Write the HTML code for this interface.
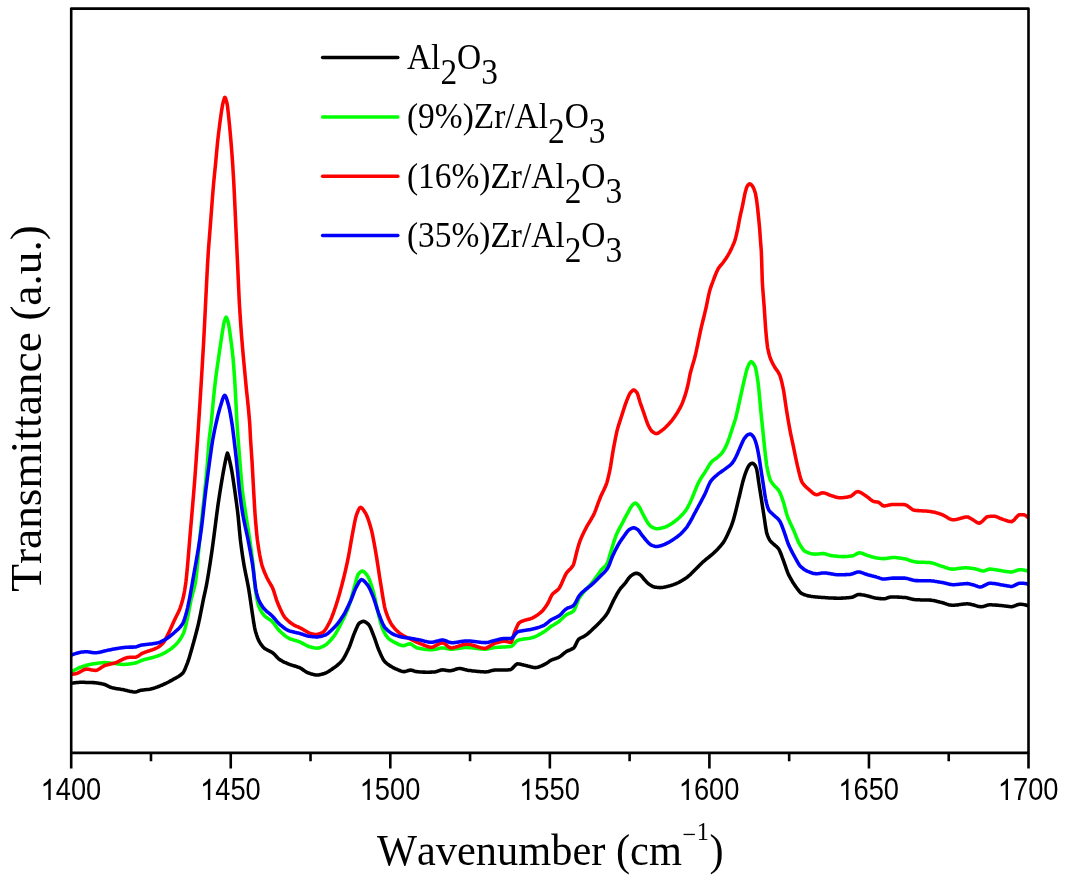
<!DOCTYPE html>
<html><head><meta charset="utf-8"><title>FTIR spectra</title>
<style>
html,body{margin:0;padding:0;background:#fff;}
body{width:1066px;height:881px;overflow:hidden;font-family:"Liberation Sans",sans-serif;}
svg{display:block;}
</style></head><body>
<svg width="1066" height="881" viewBox="0 0 1066 881">
<rect x="0" y="0" width="1066" height="881" fill="#ffffff"/>
<filter id="b" x="0" y="0" width="1066" height="881" filterUnits="userSpaceOnUse"><feGaussianBlur stdDeviation="0.65"/></filter>
<g filter="url(#b)">
<rect x="0" y="0" width="1066" height="881" fill="#ffffff"/>
<clipPath id="c"><rect x="71.2" y="8.6" width="957.3" height="744.3"/></clipPath>
<g clip-path="url(#c)" fill="none" stroke-linejoin="round" stroke-linecap="round" stroke-width="3.55">
<path d="M71.6,683.2 L72.6,683.1 L73.6,682.9 L74.6,682.8 L75.6,682.7 L76.6,682.5 L77.6,682.5 L78.6,682.4 L79.6,682.3 L80.6,682.3 L81.6,682.3 L82.6,682.3 L83.6,682.3 L84.6,682.3 L85.6,682.4 L86.6,682.4 L87.6,682.4 L88.6,682.4 L89.6,682.5 L90.6,682.5 L91.6,682.5 L92.6,682.6 L93.6,682.6 L93.8,682.6 L94.6,682.7 L95.6,682.7 L96.6,682.9 L97.6,683.0 L98.6,683.2 L99.6,683.4 L100.6,683.5 L101.6,683.8 L102.6,684.0 L103.2,684.1 L103.6,684.2 L104.6,684.5 L105.6,684.9 L106.6,685.4 L107.6,685.9 L108.6,686.4 L109.6,686.8 L110.6,687.3 L111.6,687.6 L112.5,687.9 L112.6,687.9 L113.6,688.1 L114.6,688.3 L115.6,688.5 L116.6,688.7 L117.6,688.8 L118.6,689.0 L119.6,689.1 L120.6,689.3 L121.6,689.4 L122.6,689.6 L123.6,689.8 L123.8,689.8 L124.6,690.0 L125.6,690.2 L126.6,690.4 L127.6,690.7 L128.6,690.9 L129.6,691.2 L130.6,691.4 L131.6,691.6 L132.6,691.8 L133.6,691.9 L134.6,692.0 L135.0,692.0 L135.6,691.9 L136.6,691.7 L137.6,691.4 L138.6,691.0 L139.6,690.6 L140.6,690.3 L140.7,690.3 L141.6,690.2 L142.6,690.0 L143.6,689.9 L144.6,689.8 L145.6,689.7 L146.6,689.6 L147.6,689.5 L148.6,689.4 L149.6,689.3 L150.0,689.2 L150.6,689.1 L151.6,688.8 L152.6,688.6 L153.6,688.3 L154.6,687.9 L155.6,687.6 L156.6,687.2 L157.6,686.9 L158.6,686.5 L159.6,686.1 L160.6,685.7 L161.3,685.4 L161.6,685.3 L162.6,684.8 L163.6,684.4 L164.6,683.9 L165.6,683.5 L166.6,683.0 L167.6,682.5 L168.6,682.0 L169.6,681.4 L170.6,680.9 L171.6,680.4 L172.6,679.8 L173.6,679.2 L174.6,678.7 L175.6,678.2 L176.6,677.6 L177.6,677.0 L178.6,676.4 L179.6,675.7 L180.6,675.0 L181.6,674.2 L182.6,673.2 L182.9,672.9 L183.6,671.9 L184.6,670.0 L185.6,667.7 L186.6,665.2 L187.6,662.6 L188.6,659.7 L189.6,656.5 L190.6,653.1 L191.6,649.5 L192.6,645.9 L193.2,643.8 L193.6,642.4 L194.6,638.7 L195.6,635.0 L196.6,631.2 L197.6,627.2 L198.6,623.1 L198.8,622.2 L199.6,618.5 L200.6,613.5 L201.6,608.4 L202.6,603.3 L203.5,598.8 L203.6,598.3 L204.6,593.8 L205.6,589.3 L206.5,584.9 L206.6,584.4 L207.6,578.8 L208.6,572.8 L209.6,566.5 L210.6,560.0 L211.6,553.3 L211.9,551.3 L212.6,546.3 L213.6,538.8 L214.6,531.1 L215.6,523.3 L216.6,515.4 L217.6,507.9 L218.2,503.6 L218.6,500.9 L219.6,494.3 L220.6,488.0 L221.6,481.9 L222.6,476.0 L223.6,470.4 L224.6,465.1 L225.6,460.2 L226.2,457.5 L226.6,455.7 L227.4,453.1 L227.6,453.3 L228.6,456.3 L228.8,457.0 L229.6,460.3 L230.4,464.0 L230.6,464.9 L231.6,469.9 L231.8,471.0 L232.6,475.8 L233.6,482.4 L234.6,489.3 L234.7,490.0 L235.6,496.4 L236.6,503.7 L237.6,511.6 L238.0,515.0 L238.6,521.0 L239.6,532.0 L240.4,540.0 L240.6,541.6 L241.6,549.3 L242.6,556.2 L243.6,562.6 L244.0,565.0 L244.6,568.3 L245.6,573.4 L246.6,578.2 L247.6,583.1 L248.6,588.4 L248.7,589.0 L249.6,594.7 L250.6,601.6 L251.6,608.5 L252.2,612.5 L252.6,615.1 L253.6,621.7 L254.6,627.5 L255.0,629.4 L255.6,631.7 L256.6,635.0 L257.6,637.9 L258.6,640.3 L258.8,640.7 L259.6,642.1 L260.6,643.7 L261.6,645.1 L262.6,646.4 L263.6,647.4 L264.4,648.2 L264.6,648.4 L265.6,649.0 L266.6,649.6 L267.6,650.2 L268.6,650.6 L269.6,651.1 L270.6,651.6 L271.6,652.1 L272.6,652.8 L272.8,652.9 L273.6,653.6 L274.6,654.5 L275.6,655.6 L276.6,656.7 L277.6,657.8 L278.6,658.8 L279.4,659.4 L279.6,659.5 L280.6,660.2 L281.6,660.7 L282.6,661.3 L283.6,661.8 L284.6,662.3 L285.6,662.7 L286.6,663.2 L287.6,663.6 L288.6,664.0 L288.8,664.1 L289.6,664.4 L290.6,664.8 L291.6,665.1 L292.6,665.4 L293.6,665.7 L294.6,666.0 L295.6,666.3 L296.6,666.6 L297.6,667.0 L298.6,667.3 L299.6,667.7 L300.0,667.9 L300.6,668.2 L301.6,668.8 L302.6,669.5 L303.6,670.2 L304.6,670.9 L305.6,671.6 L306.6,672.2 L307.5,672.6 L307.6,672.6 L308.6,673.0 L309.6,673.3 L310.6,673.7 L311.6,674.0 L312.6,674.3 L313.6,674.5 L314.6,674.7 L315.6,674.9 L316.6,675.0 L316.9,675.0 L317.6,675.0 L318.6,674.9 L319.6,674.7 L320.6,674.5 L321.6,674.3 L322.6,674.0 L323.6,673.7 L324.4,673.5 L324.6,673.4 L325.6,673.0 L326.6,672.6 L327.6,672.0 L328.6,671.5 L329.6,670.8 L330.6,670.1 L331.6,669.5 L332.6,668.7 L333.6,668.0 L333.8,667.9 L334.6,667.3 L335.6,666.6 L336.6,665.8 L337.6,665.0 L338.6,664.1 L339.6,663.2 L340.6,662.2 L341.6,661.1 L342.2,660.4 L342.6,659.9 L343.6,658.4 L344.6,656.7 L345.6,654.8 L346.6,652.8 L347.6,650.8 L348.6,648.6 L348.8,648.2 L349.6,646.3 L350.6,643.6 L351.6,640.8 L352.6,637.9 L353.6,635.2 L354.4,633.2 L354.6,632.7 L355.6,630.3 L356.6,627.9 L357.6,625.7 L358.6,624.0 L359.1,623.4 L359.6,623.0 L360.6,622.3 L361.6,621.8 L362.6,621.4 L363.3,621.3 L363.6,621.3 L364.6,621.6 L365.6,622.1 L366.6,622.8 L367.6,623.6 L368.5,624.4 L368.6,624.5 L369.6,626.0 L370.6,628.0 L371.6,630.4 L372.6,633.0 L373.6,635.6 L374.1,636.9 L374.6,638.2 L375.6,641.0 L376.6,644.0 L377.6,646.9 L378.6,649.5 L378.8,650.0 L379.6,651.8 L380.6,654.1 L381.6,656.3 L382.6,658.3 L383.6,660.1 L384.5,661.3 L384.6,661.4 L385.6,662.4 L386.6,663.3 L387.6,664.1 L388.6,664.8 L389.6,665.5 L390.6,666.2 L391.6,666.7 L392.6,667.3 L393.6,667.8 L393.8,667.9 L394.6,668.3 L395.6,668.8 L396.6,669.2 L397.6,669.7 L398.6,670.1 L399.6,670.5 L400.6,670.9 L401.6,671.2 L402.6,671.4 L403.6,671.6 L404.2,671.6 L404.6,671.6 L405.6,671.4 L406.6,671.1 L407.6,670.8 L408.6,670.5 L409.6,670.2 L410.6,670.1 L410.7,670.1 L411.6,670.2 L412.6,670.5 L413.6,670.8 L414.6,671.2 L415.6,671.5 L416.4,671.6 L416.6,671.6 L417.6,671.7 L418.6,671.8 L419.6,671.9 L420.6,671.9 L421.6,672.0 L422.6,672.1 L423.6,672.1 L424.6,672.1 L425.6,672.2 L426.6,672.2 L427.6,672.2 L428.6,672.2 L429.6,672.2 L430.6,672.1 L431.6,672.1 L432.6,672.0 L433.6,672.0 L434.6,671.9 L435.0,671.9 L435.6,671.8 L436.6,671.6 L437.6,671.2 L438.6,670.8 L439.6,670.5 L440.6,670.1 L441.6,669.9 L442.5,669.8 L442.6,669.8 L443.6,669.9 L444.6,670.0 L445.6,670.2 L446.6,670.4 L447.6,670.5 L448.6,670.7 L449.6,670.8 L450.0,670.8 L450.6,670.8 L451.6,670.6 L452.6,670.3 L453.6,670.0 L454.6,669.7 L455.6,669.3 L456.6,669.0 L457.6,668.7 L458.6,668.6 L459.4,668.5 L459.6,668.5 L460.6,668.6 L461.6,668.7 L462.6,668.9 L463.6,669.2 L464.6,669.5 L465.6,669.7 L466.6,670.0 L467.6,670.2 L468.6,670.4 L468.8,670.4 L469.6,670.5 L470.6,670.6 L471.6,670.7 L472.6,670.9 L473.6,671.0 L474.6,671.1 L475.6,671.2 L476.6,671.3 L477.6,671.4 L478.6,671.5 L479.6,671.6 L480.6,671.7 L481.6,671.7 L482.6,671.8 L483.6,671.8 L484.6,671.9 L485.6,671.9 L485.7,671.9 L486.6,671.8 L487.6,671.7 L488.6,671.5 L489.6,671.2 L490.6,670.9 L491.6,670.6 L492.6,670.4 L493.6,670.2 L494.6,670.0 L495.0,670.0 L495.6,670.0 L496.6,670.0 L497.6,669.9 L498.6,669.9 L499.6,669.9 L500.6,669.9 L501.6,669.9 L502.6,669.9 L503.6,669.9 L504.6,669.9 L505.6,669.9 L506.6,669.9 L507.6,669.9 L508.6,669.8 L509.6,669.8 L510.0,669.8 L510.6,669.6 L511.6,669.0 L512.6,668.1 L513.6,667.0 L514.6,665.9 L515.6,664.9 L516.6,664.1 L517.6,663.8 L518.6,663.9 L519.6,664.0 L520.6,664.2 L521.6,664.5 L522.6,664.7 L523.6,665.0 L524.6,665.2 L525.0,665.3 L525.6,665.4 L526.6,665.7 L527.6,666.0 L528.6,666.2 L529.6,666.5 L530.6,666.8 L531.6,667.0 L532.6,667.3 L533.6,667.4 L534.6,667.6 L535.4,667.6 L535.6,667.6 L536.6,667.5 L537.6,667.3 L538.6,667.0 L539.6,666.6 L540.6,666.2 L541.6,665.8 L542.6,665.3 L543.6,664.8 L544.6,664.3 L545.6,663.8 L545.7,663.8 L546.6,663.3 L547.6,662.6 L548.6,661.9 L549.6,661.1 L550.6,660.5 L551.3,660.1 L551.6,660.0 L552.6,659.5 L553.6,659.2 L554.6,658.9 L555.6,658.5 L556.6,658.2 L557.6,657.8 L558.6,657.4 L558.8,657.3 L559.6,656.8 L560.6,656.1 L561.6,655.3 L562.6,654.5 L563.6,653.6 L564.6,652.8 L565.6,652.1 L566.3,651.6 L566.6,651.4 L567.6,650.9 L568.6,650.5 L569.6,650.1 L570.6,649.7 L571.6,649.2 L572.6,648.7 L573.6,648.1 L573.8,647.9 L574.6,646.8 L575.6,644.9 L576.6,642.7 L577.6,640.7 L578.5,639.4 L578.6,639.3 L579.6,638.6 L580.6,638.0 L581.6,637.5 L582.6,637.0 L583.6,636.6 L584.6,636.0 L585.1,635.7 L585.6,635.3 L586.6,634.6 L587.6,633.8 L588.6,633.0 L589.6,632.1 L590.6,631.2 L591.6,630.3 L592.6,629.3 L593.6,628.3 L594.6,627.4 L595.5,626.5 L595.6,626.4 L596.6,625.4 L597.6,624.4 L598.6,623.4 L599.6,622.4 L600.6,621.4 L601.6,620.3 L602.6,619.2 L603.6,618.1 L604.6,616.9 L605.6,615.6 L606.6,614.2 L606.9,613.8 L607.6,612.7 L608.6,610.8 L609.6,608.8 L610.6,606.7 L611.6,604.6 L612.6,602.4 L613.6,600.4 L614.4,598.8 L614.6,598.4 L615.6,596.6 L616.6,594.7 L617.6,593.0 L618.6,591.3 L619.5,589.9 L619.6,589.8 L620.6,588.4 L621.6,587.2 L622.6,586.1 L623.6,585.0 L624.6,583.8 L625.2,583.1 L625.6,582.6 L626.6,581.2 L627.6,579.8 L628.6,578.4 L629.6,577.2 L630.6,576.1 L630.9,575.9 L631.6,575.4 L632.6,574.7 L633.6,574.1 L634.6,573.6 L635.6,573.3 L636.3,573.2 L636.6,573.2 L637.6,573.5 L638.6,573.9 L639.6,574.4 L639.9,574.6 L640.6,575.1 L641.6,576.2 L642.6,577.4 L643.6,578.7 L644.5,579.7 L644.6,579.8 L645.6,580.9 L646.6,582.0 L647.6,583.0 L648.6,583.9 L649.0,584.2 L649.6,584.6 L650.6,585.2 L651.6,585.8 L652.6,586.4 L653.6,586.8 L654.6,587.1 L654.7,587.1 L655.6,587.2 L656.6,587.3 L657.6,587.4 L658.6,587.5 L659.6,587.6 L660.4,587.6 L660.6,587.6 L661.6,587.5 L662.6,587.4 L663.6,587.3 L664.6,587.1 L665.6,586.9 L666.6,586.6 L667.6,586.4 L668.6,586.1 L669.5,585.9 L669.6,585.9 L670.6,585.6 L671.6,585.3 L672.6,584.9 L673.6,584.6 L674.6,584.2 L675.6,583.8 L676.6,583.3 L677.6,582.9 L678.5,582.5 L678.6,582.5 L679.6,581.9 L680.6,581.4 L681.6,580.8 L682.6,580.2 L683.6,579.6 L684.6,579.0 L685.3,578.5 L685.6,578.3 L686.6,577.6 L687.6,576.8 L688.6,576.0 L689.6,575.1 L690.0,574.8 L690.6,574.3 L691.6,573.3 L692.6,572.3 L693.6,571.3 L694.6,570.3 L695.1,569.8 L695.6,569.3 L696.6,568.3 L697.6,567.3 L698.6,566.2 L699.6,565.2 L700.6,564.2 L701.6,563.2 L702.6,562.3 L703.6,561.4 L704.6,560.6 L705.6,559.7 L706.6,558.9 L707.6,558.1 L708.6,557.3 L709.6,556.5 L710.6,555.7 L711.6,554.9 L712.6,554.0 L713.6,553.1 L713.8,552.9 L714.6,552.1 L715.6,551.2 L716.6,550.2 L717.6,549.2 L718.6,548.1 L719.6,547.1 L720.6,545.9 L721.6,544.7 L722.6,543.4 L723.2,542.6 L723.6,542.0 L724.6,540.3 L725.6,538.5 L726.6,536.6 L727.6,534.5 L728.6,532.3 L729.6,530.1 L730.5,528.0 L730.6,527.8 L731.6,525.2 L732.6,522.3 L733.4,519.9 L733.6,519.2 L734.6,515.6 L735.6,511.7 L736.6,507.6 L737.6,503.4 L738.6,499.2 L739.1,497.2 L739.6,495.2 L740.6,490.9 L741.6,486.7 L742.6,482.6 L743.6,479.0 L744.6,475.8 L745.6,472.8 L746.6,470.2 L747.6,467.9 L748.6,466.1 L749.6,464.7 L750.0,464.3 L750.6,463.9 L751.6,463.4 L752.4,463.2 L752.6,463.2 L753.6,463.8 L754.6,464.8 L754.8,465.0 L755.6,466.3 L756.6,468.8 L757.6,474.3 L758.6,481.6 L758.9,483.6 L759.6,488.0 L760.6,494.2 L761.6,500.4 L761.8,501.7 L762.6,506.9 L763.6,513.4 L764.6,519.9 L765.6,526.9 L766.6,532.6 L767.6,535.6 L768.6,538.0 L769.6,539.9 L769.8,540.2 L770.6,541.3 L771.6,542.4 L772.6,543.3 L773.6,544.2 L774.6,545.0 L775.6,545.8 L776.6,546.6 L777.6,547.7 L778.6,548.9 L778.8,549.2 L779.6,550.7 L780.6,553.0 L781.6,555.6 L782.6,558.3 L783.5,560.7 L783.6,561.0 L784.6,563.8 L785.6,566.7 L786.6,569.7 L787.6,572.4 L788.2,573.8 L788.6,574.6 L789.6,576.6 L790.6,578.5 L791.6,580.2 L792.6,581.9 L793.6,583.4 L794.6,585.0 L794.7,585.1 L795.6,586.4 L796.6,587.8 L797.6,589.2 L798.6,590.5 L799.6,591.7 L800.6,592.7 L801.3,593.2 L801.6,593.4 L802.6,593.9 L803.6,594.3 L804.6,594.8 L805.6,595.1 L806.6,595.4 L807.6,595.7 L808.6,596.0 L808.8,596.0 L809.6,596.1 L810.6,596.3 L811.6,596.4 L812.6,596.6 L813.6,596.7 L814.6,596.8 L815.6,596.9 L816.6,597.0 L817.6,597.1 L818.6,597.2 L819.6,597.3 L820.0,597.3 L820.6,597.3 L821.6,597.4 L822.6,597.5 L823.6,597.5 L824.6,597.6 L825.6,597.7 L826.6,597.7 L827.6,597.8 L828.6,597.9 L829.6,597.9 L830.6,598.0 L831.6,598.0 L832.6,598.0 L833.6,598.1 L834.6,598.1 L835.6,598.1 L836.6,598.2 L837.6,598.2 L838.6,598.2 L838.8,598.2 L839.6,598.2 L840.6,598.2 L841.6,598.1 L842.6,598.1 L843.6,598.0 L844.6,598.0 L845.6,597.9 L846.6,597.8 L847.6,597.8 L848.6,597.7 L849.6,597.6 L850.6,597.5 L851.6,597.3 L852.0,597.3 L852.6,597.2 L853.6,596.7 L854.6,596.2 L855.6,595.6 L856.6,595.1 L857.6,594.7 L858.5,594.5 L858.6,594.5 L859.6,594.6 L860.6,594.6 L861.6,594.8 L862.6,594.9 L863.6,595.1 L864.6,595.3 L865.6,595.5 L866.6,595.7 L867.0,595.8 L867.6,595.9 L868.6,596.2 L869.6,596.5 L870.6,596.8 L871.6,597.1 L872.6,597.4 L873.6,597.6 L874.6,597.9 L875.6,598.1 L876.3,598.2 L876.6,598.2 L877.6,598.3 L878.6,598.5 L879.6,598.6 L880.6,598.6 L881.6,598.7 L882.6,598.8 L883.6,598.8 L883.8,598.8 L884.6,598.7 L885.6,598.5 L886.6,598.2 L887.6,597.8 L888.6,597.5 L889.6,597.2 L890.6,597.0 L891.4,596.9 L891.6,596.9 L892.6,596.9 L893.6,596.9 L894.6,597.0 L895.6,597.0 L896.6,597.0 L897.6,597.1 L898.6,597.1 L899.6,597.2 L900.6,597.2 L901.6,597.3 L902.6,597.4 L903.6,597.4 L904.5,597.5 L904.6,597.5 L905.6,597.6 L906.6,597.8 L907.6,598.0 L908.6,598.3 L909.6,598.5 L910.6,598.8 L911.6,599.0 L912.6,599.2 L913.6,599.4 L914.6,599.6 L915.6,599.7 L915.7,599.7 L916.6,599.7 L917.6,599.8 L918.6,599.8 L919.6,599.8 L920.6,599.9 L921.6,599.9 L922.6,599.9 L923.6,599.9 L924.6,599.9 L925.6,600.0 L926.6,600.0 L927.6,600.0 L928.6,600.0 L929.6,600.1 L930.0,600.1 L930.6,600.1 L931.6,600.3 L932.6,600.4 L933.6,600.6 L934.6,600.8 L935.6,601.0 L936.6,601.2 L937.6,601.5 L938.6,601.7 L939.6,602.0 L940.6,602.2 L941.0,602.3 L941.6,602.4 L942.6,602.7 L943.6,603.0 L944.6,603.4 L945.6,603.7 L946.6,604.1 L947.6,604.4 L948.6,604.7 L949.6,604.9 L950.6,605.1 L951.6,605.3 L952.3,605.3 L952.6,605.3 L953.6,605.3 L954.6,605.2 L955.6,605.1 L956.6,605.0 L957.6,604.9 L958.6,604.7 L959.6,604.6 L960.6,604.4 L961.6,604.3 L962.6,604.2 L963.6,604.0 L964.6,603.9 L965.6,603.9 L966.6,603.8 L967.3,603.8 L967.6,603.8 L968.6,603.9 L969.6,604.0 L970.6,604.2 L971.6,604.5 L972.6,604.7 L973.6,605.0 L974.6,605.3 L975.6,605.6 L976.6,605.9 L977.6,606.2 L978.6,606.4 L979.6,606.5 L980.6,606.7 L981.4,606.7 L981.6,606.7 L982.6,606.6 L983.6,606.4 L984.6,606.1 L985.6,605.8 L986.6,605.4 L987.6,605.1 L988.6,604.9 L989.6,604.8 L989.8,604.8 L990.6,604.8 L991.6,604.8 L992.6,604.9 L993.6,604.9 L994.6,605.0 L995.6,605.1 L996.6,605.1 L997.6,605.2 L998.6,605.3 L999.6,605.4 L1000.6,605.5 L1001.6,605.6 L1002.6,605.7 L1003.0,605.7 L1003.6,605.8 L1004.6,605.9 L1005.6,606.0 L1006.6,606.2 L1007.6,606.3 L1008.6,606.5 L1009.6,606.6 L1010.6,606.7 L1011.4,606.7 L1011.6,606.7 L1012.6,606.5 L1013.6,606.2 L1014.6,605.9 L1015.6,605.5 L1016.6,605.0 L1017.6,604.7 L1018.6,604.4 L1019.6,604.2 L1019.8,604.2 L1020.6,604.2 L1021.6,604.3 L1022.6,604.4 L1023.6,604.6 L1024.6,604.7 L1025.6,605.0 L1026.6,605.3 L1027.6,605.7 L1027.7,605.7" stroke="#000000"/>
<path d="M71.6,671.9 L72.6,671.3 L73.6,670.7 L74.6,670.1 L75.6,669.6 L76.6,669.0 L77.6,668.5 L78.6,668.0 L79.6,667.6 L80.6,667.2 L81.6,666.9 L82.6,666.5 L83.6,666.2 L84.6,665.9 L85.6,665.6 L86.6,665.3 L87.6,665.0 L88.6,664.8 L89.6,664.6 L90.6,664.3 L91.6,664.2 L91.9,664.1 L92.6,664.0 L93.6,663.8 L94.6,663.7 L95.6,663.5 L96.6,663.4 L97.6,663.2 L98.6,663.1 L99.6,663.0 L100.6,662.9 L101.6,662.8 L102.6,662.7 L103.6,662.6 L104.6,662.6 L105.0,662.6 L105.6,662.6 L106.6,662.7 L107.6,662.7 L108.6,662.8 L109.6,662.9 L110.6,663.1 L111.6,663.2 L112.6,663.3 L113.6,663.4 L114.4,663.5 L114.6,663.5 L115.6,663.6 L116.6,663.7 L117.6,663.9 L118.6,664.0 L119.6,664.1 L120.6,664.2 L121.6,664.3 L122.6,664.4 L123.6,664.4 L123.8,664.4 L124.6,664.4 L125.6,664.3 L126.6,664.3 L127.6,664.2 L128.6,664.1 L129.6,664.0 L130.6,663.8 L131.6,663.7 L132.6,663.5 L133.6,663.3 L134.6,663.2 L135.0,663.1 L135.6,663.0 L136.6,662.6 L137.6,662.2 L138.6,661.8 L139.6,661.4 L140.6,660.9 L141.6,660.5 L142.6,660.1 L143.6,659.8 L144.6,659.5 L145.6,659.2 L146.6,659.0 L147.6,658.7 L148.6,658.5 L149.6,658.2 L150.6,658.0 L151.6,657.7 L152.6,657.5 L153.6,657.2 L154.6,656.9 L155.6,656.6 L156.6,656.3 L157.6,656.0 L158.6,655.6 L159.6,655.2 L160.6,654.8 L161.6,654.3 L162.6,653.9 L163.6,653.4 L164.6,652.8 L165.6,652.3 L166.6,651.7 L167.6,651.1 L168.6,650.5 L168.8,650.4 L169.6,649.8 L170.6,649.1 L171.6,648.3 L172.6,647.5 L173.6,646.6 L174.6,645.7 L175.6,644.7 L176.6,643.7 L177.6,642.6 L178.2,641.9 L178.6,641.4 L179.6,640.0 L180.6,638.6 L181.6,636.9 L182.6,635.1 L183.6,633.0 L183.8,632.5 L184.6,630.1 L185.6,626.3 L186.6,621.9 L187.6,617.5 L188.6,612.6 L189.6,607.4 L190.6,602.2 L191.3,598.8 L191.6,597.5 L192.6,593.8 L193.6,590.2 L194.6,586.4 L195.5,582.0 L195.6,581.4 L196.6,573.3 L197.6,563.1 L198.6,551.7 L199.6,540.3 L200.5,530.8 L200.6,529.8 L201.6,520.5 L202.6,511.5 L203.6,502.4 L204.6,493.0 L204.8,491.0 L205.6,482.9 L206.6,472.3 L207.5,462.0 L207.6,460.7 L208.6,446.3 L209.1,440.0 L209.6,435.6 L210.6,428.2 L211.0,424.9 L211.6,419.0 L212.6,408.2 L213.6,397.6 L214.6,388.0 L215.5,380.0 L215.6,379.2 L216.6,371.6 L217.6,364.4 L218.6,357.5 L218.7,356.8 L219.6,350.6 L220.6,343.9 L221.6,337.3 L222.1,334.1 L222.6,330.8 L223.6,324.6 L224.0,322.7 L224.6,320.6 L225.6,317.8 L226.1,317.2 L226.6,317.7 L227.6,320.3 L228.3,322.7 L228.6,324.1 L229.6,330.5 L230.1,334.1 L230.6,337.7 L231.6,345.3 L232.6,353.9 L232.9,356.8 L233.6,364.9 L234.6,378.5 L234.7,380.0 L235.6,395.8 L235.7,397.6 L236.6,415.7 L237.1,424.9 L237.6,432.1 L238.2,440.0 L238.6,445.2 L239.6,457.8 L240.0,462.7 L240.6,470.2 L241.6,482.6 L242.3,490.0 L242.6,492.5 L243.6,500.0 L244.6,506.6 L245.6,513.0 L245.9,515.0 L246.6,519.5 L247.6,525.8 L248.6,532.1 L249.6,538.6 L249.8,540.0 L250.6,545.6 L251.6,552.9 L252.6,560.7 L253.1,565.0 L253.6,570.2 L254.6,582.2 L255.4,590.0 L255.6,591.3 L256.6,597.2 L257.6,602.0 L258.6,605.7 L258.8,606.3 L259.6,608.2 L260.6,610.2 L261.6,611.9 L262.6,613.4 L263.6,614.8 L264.4,615.7 L264.6,615.9 L265.6,616.8 L266.6,617.6 L267.6,618.2 L268.6,618.9 L269.6,619.5 L270.6,620.2 L271.6,621.0 L271.9,621.3 L272.6,622.0 L273.6,623.2 L274.6,624.5 L275.6,625.9 L276.6,627.3 L277.6,628.6 L278.6,629.8 L279.4,630.7 L279.6,630.9 L280.6,631.8 L281.6,632.8 L282.6,633.7 L283.6,634.5 L284.6,635.4 L285.6,636.2 L286.6,636.9 L287.6,637.5 L288.6,638.1 L288.8,638.2 L289.6,638.6 L290.6,639.0 L291.6,639.3 L292.6,639.6 L293.6,640.0 L294.6,640.3 L295.6,640.5 L296.6,640.8 L297.6,641.1 L298.6,641.5 L299.6,641.8 L300.0,642.0 L300.6,642.3 L301.6,642.8 L302.6,643.3 L303.6,643.9 L304.6,644.4 L305.6,645.0 L306.6,645.5 L307.6,646.0 L308.6,646.4 L309.4,646.7 L309.6,646.8 L310.6,647.0 L311.6,647.3 L312.6,647.6 L313.6,647.8 L314.6,648.0 L315.6,648.1 L316.6,648.2 L316.9,648.2 L317.6,648.1 L318.6,648.0 L319.6,647.7 L320.6,647.4 L321.6,647.0 L322.6,646.5 L323.6,646.1 L324.4,645.7 L324.6,645.6 L325.6,644.9 L326.6,644.2 L327.6,643.3 L328.6,642.3 L329.6,641.3 L330.6,640.2 L331.6,639.0 L332.6,637.8 L333.6,636.6 L333.8,636.3 L334.6,635.2 L335.6,633.6 L336.6,632.0 L337.6,630.2 L338.6,628.3 L339.6,626.4 L340.6,624.5 L341.6,622.5 L342.2,621.3 L342.6,620.5 L343.6,618.4 L344.6,616.3 L345.6,614.1 L346.6,611.8 L347.6,609.4 L348.6,606.8 L348.8,606.3 L349.6,603.9 L350.6,600.6 L351.6,597.0 L352.6,593.4 L353.6,589.8 L354.4,587.0 L354.6,586.3 L355.6,582.5 L356.6,578.8 L357.6,575.6 L358.2,574.4 L358.6,573.9 L359.6,572.7 L360.6,571.8 L361.6,571.2 L362.3,571.0 L362.6,571.1 L363.6,571.5 L364.6,572.3 L365.6,573.4 L366.6,574.7 L367.6,576.0 L368.6,577.9 L369.6,580.2 L370.6,583.0 L371.6,586.1 L372.6,589.3 L373.2,591.3 L373.6,592.8 L374.6,596.9 L375.6,601.5 L376.6,606.2 L377.6,610.7 L377.9,611.9 L378.6,614.7 L379.6,618.7 L380.6,622.5 L381.6,626.0 L382.6,628.8 L383.6,631.0 L384.6,632.9 L385.6,634.7 L386.6,636.2 L387.6,637.5 L388.2,638.2 L388.6,638.6 L389.6,639.4 L390.6,640.1 L391.6,640.7 L392.6,641.3 L393.6,641.9 L394.6,642.4 L395.6,642.9 L395.7,642.9 L396.6,643.3 L397.6,643.8 L398.6,644.3 L399.6,644.8 L400.6,645.1 L401.6,645.5 L402.6,645.6 L403.2,645.7 L403.6,645.7 L404.6,645.5 L405.6,645.1 L406.6,644.7 L407.6,644.3 L408.6,644.0 L409.6,643.8 L409.8,643.8 L410.6,644.0 L411.6,644.4 L412.6,645.1 L413.6,645.9 L414.6,646.6 L415.6,647.2 L416.4,647.6 L416.6,647.7 L417.6,647.9 L418.6,648.2 L419.6,648.4 L420.6,648.6 L421.6,648.8 L422.6,649.0 L423.6,649.1 L424.0,649.2 L424.6,649.3 L425.6,649.4 L426.6,649.5 L427.6,649.6 L428.6,649.7 L429.6,649.7 L430.6,649.8 L431.3,649.8 L431.6,649.8 L432.6,649.7 L433.6,649.6 L434.6,649.4 L435.6,649.2 L436.6,648.9 L437.6,648.7 L438.6,648.4 L439.6,648.2 L440.6,648.1 L441.6,647.9 L442.5,647.9 L442.6,647.9 L443.6,648.0 L444.6,648.1 L445.6,648.3 L446.6,648.5 L447.6,648.7 L448.6,648.9 L449.6,649.1 L450.6,649.2 L451.0,649.2 L451.6,649.2 L452.6,649.1 L453.6,649.1 L454.6,649.0 L455.6,648.8 L456.6,648.7 L457.6,648.6 L458.6,648.4 L459.6,648.3 L460.6,648.1 L461.6,648.0 L462.6,647.8 L463.6,647.7 L464.6,647.6 L465.6,647.5 L466.6,647.5 L466.9,647.5 L467.6,647.5 L468.6,647.6 L469.6,647.6 L470.6,647.7 L471.6,647.8 L472.6,647.9 L473.6,648.1 L474.6,648.2 L475.6,648.3 L476.6,648.5 L477.6,648.6 L478.6,648.7 L479.6,648.8 L480.6,649.0 L481.6,649.0 L482.6,649.1 L483.6,649.2 L484.6,649.2 L484.7,649.2 L485.6,649.2 L486.6,649.1 L487.6,648.9 L488.6,648.7 L489.6,648.5 L490.6,648.3 L491.6,648.1 L492.6,647.9 L493.6,647.7 L494.6,647.5 L495.0,647.5 L495.6,647.4 L496.6,647.4 L497.6,647.3 L498.6,647.2 L499.6,647.2 L500.6,647.1 L501.6,647.1 L502.6,647.0 L503.6,647.0 L504.6,647.0 L505.6,646.9 L506.6,646.8 L507.6,646.8 L508.6,646.7 L509.6,646.6 L510.6,646.5 L511.0,646.4 L511.6,646.2 L512.6,645.4 L513.6,644.4 L514.6,643.2 L515.6,642.0 L516.6,641.0 L517.6,640.4 L518.6,640.1 L519.6,639.8 L520.6,639.6 L521.6,639.4 L522.6,639.3 L523.6,639.1 L524.6,639.0 L525.6,638.8 L526.6,638.7 L527.6,638.6 L528.6,638.4 L529.6,638.3 L530.6,638.1 L531.6,637.8 L532.6,637.6 L533.6,637.3 L534.6,636.9 L535.6,636.5 L536.6,636.0 L537.6,635.5 L538.6,634.9 L539.6,634.4 L540.6,633.8 L541.6,633.2 L542.6,632.6 L543.6,632.0 L543.8,631.9 L544.6,631.4 L545.6,630.7 L546.6,629.9 L547.6,629.1 L548.6,628.3 L549.6,627.5 L550.6,626.8 L551.3,626.3 L551.6,626.1 L552.6,625.5 L553.6,624.9 L554.6,624.3 L555.6,623.7 L556.6,623.1 L557.6,622.4 L558.6,621.7 L558.8,621.6 L559.6,620.9 L560.6,620.0 L561.6,619.0 L562.6,618.0 L563.6,617.1 L564.6,616.1 L565.6,615.3 L566.0,615.0 L566.6,614.6 L567.6,614.1 L568.6,613.7 L569.6,613.2 L570.6,612.8 L571.6,612.3 L572.6,611.7 L573.5,611.0 L573.6,610.9 L574.6,609.3 L575.6,607.0 L576.6,604.3 L577.6,601.6 L578.6,599.2 L579.2,598.0 L579.6,597.4 L580.6,595.9 L581.6,594.6 L582.6,593.3 L583.6,592.1 L584.6,591.0 L585.6,589.9 L586.6,588.9 L587.6,587.8 L588.6,586.7 L589.6,585.6 L590.6,584.5 L591.6,583.3 L591.9,582.9 L592.6,582.0 L593.6,580.7 L594.6,579.3 L595.6,577.9 L596.6,576.5 L597.6,575.1 L598.6,573.7 L599.4,572.6 L599.6,572.3 L600.6,570.9 L601.4,569.8 L601.6,569.6 L602.6,568.5 L603.6,567.6 L604.6,566.7 L605.6,565.7 L606.6,564.4 L607.0,563.8 L607.6,562.5 L608.6,559.6 L609.6,556.1 L610.6,552.6 L611.0,551.3 L611.6,549.4 L612.6,546.1 L613.6,542.8 L614.6,539.6 L615.6,536.7 L616.1,535.4 L616.6,534.2 L617.6,532.1 L618.6,530.1 L619.6,528.2 L620.6,526.4 L621.6,524.5 L621.8,524.1 L622.6,522.6 L623.6,520.6 L624.6,518.7 L625.6,516.8 L626.6,514.9 L627.5,513.3 L627.6,513.1 L628.6,511.3 L629.6,509.4 L630.6,507.7 L631.6,506.1 L632.6,504.9 L633.6,504.0 L634.6,503.3 L635.4,503.1 L635.6,503.1 L636.6,503.7 L637.6,504.7 L638.6,506.0 L638.8,506.2 L639.6,507.5 L640.6,509.4 L641.6,511.5 L642.2,512.7 L642.6,513.5 L643.6,515.4 L644.6,517.3 L645.6,519.2 L646.6,520.9 L646.8,521.2 L647.6,522.4 L648.6,523.9 L649.6,525.2 L650.6,526.2 L650.7,526.3 L651.6,526.8 L652.6,527.4 L653.6,527.8 L654.6,528.2 L655.6,528.5 L656.6,528.7 L657.0,528.7 L657.6,528.7 L658.6,528.6 L659.6,528.4 L660.6,528.3 L661.6,528.0 L662.6,527.8 L663.6,527.5 L663.8,527.5 L664.6,527.2 L665.6,526.9 L666.6,526.4 L667.6,525.9 L668.6,525.3 L669.6,524.8 L670.6,524.2 L671.6,523.6 L671.7,523.5 L672.6,522.9 L673.6,522.2 L674.6,521.5 L675.6,520.7 L676.6,519.9 L677.6,519.1 L678.6,518.2 L679.6,517.3 L679.7,517.2 L680.6,516.3 L681.6,515.3 L682.6,514.2 L683.6,513.1 L684.6,511.9 L685.6,510.6 L686.5,509.3 L686.6,509.1 L687.6,507.5 L688.6,505.5 L689.6,503.5 L690.0,502.7 L690.6,501.4 L691.6,499.1 L692.3,497.5 L692.6,496.8 L693.6,494.4 L694.6,491.9 L695.6,489.3 L696.6,486.9 L697.6,484.5 L698.6,482.4 L698.8,482.0 L699.6,480.6 L700.6,478.9 L701.6,477.3 L702.6,475.8 L703.6,474.3 L704.6,472.8 L705.0,472.2 L705.6,471.2 L706.6,469.6 L707.6,467.8 L708.6,466.1 L709.6,464.5 L710.6,463.1 L711.6,461.8 L711.8,461.6 L712.6,460.9 L713.6,460.1 L714.6,459.4 L715.6,458.7 L716.6,458.0 L717.5,457.3 L717.6,457.2 L718.6,456.3 L719.6,455.4 L720.6,454.5 L721.6,453.4 L722.0,452.9 L722.6,452.1 L723.6,450.5 L724.6,448.8 L725.6,446.9 L726.0,446.1 L726.6,444.8 L727.6,442.3 L728.6,439.7 L729.4,437.5 L729.6,436.9 L730.6,433.9 L731.6,430.8 L732.6,427.6 L732.8,427.0 L733.6,424.7 L734.6,421.7 L735.3,419.5 L735.6,418.4 L736.6,414.4 L737.6,410.0 L738.6,405.5 L739.6,400.9 L740.5,396.8 L740.6,396.4 L741.6,391.9 L742.6,387.3 L743.6,382.8 L744.5,379.0 L744.6,378.6 L745.6,374.4 L746.6,370.4 L747.5,367.6 L747.6,367.4 L748.6,365.1 L749.6,363.1 L750.6,361.9 L751.1,361.6 L751.6,361.8 L752.6,362.6 L753.6,363.9 L754.6,365.6 L755.2,366.8 L755.6,368.0 L756.6,372.9 L757.6,379.3 L758.0,382.0 L758.6,387.1 L759.6,397.6 L760.6,408.5 L760.7,409.5 L761.6,418.5 L762.6,428.3 L763.6,438.1 L763.8,440.0 L764.6,447.7 L765.5,456.0 L765.6,456.8 L766.6,464.8 L766.8,466.0 L767.6,470.1 L768.6,474.5 L769.6,478.1 L770.3,480.0 L770.6,480.6 L771.6,482.3 L772.6,483.7 L773.6,484.9 L774.6,486.0 L775.6,487.0 L776.6,488.0 L777.6,489.1 L778.6,490.4 L779.6,492.0 L779.7,492.2 L780.6,494.2 L781.6,496.8 L782.6,499.8 L783.5,502.5 L783.6,502.8 L784.6,506.3 L785.6,510.2 L786.6,513.8 L787.2,515.7 L787.6,516.8 L788.6,519.3 L789.6,521.6 L790.6,523.8 L791.6,525.9 L792.6,528.0 L793.6,530.2 L793.8,530.7 L794.6,532.6 L795.6,535.1 L796.6,537.6 L797.6,540.0 L798.6,542.3 L799.4,543.8 L799.6,544.1 L800.6,545.8 L801.6,547.4 L802.6,548.8 L803.6,550.1 L804.6,551.0 L805.0,551.3 L805.6,551.6 L806.6,552.0 L807.6,552.5 L808.6,552.9 L809.6,553.2 L810.6,553.5 L811.6,553.7 L812.6,553.9 L813.6,554.0 L814.4,554.1 L814.6,554.1 L815.6,554.1 L816.6,554.0 L817.6,553.9 L818.6,553.9 L819.6,553.8 L820.6,553.7 L821.6,553.6 L822.6,553.6 L822.9,553.6 L823.6,553.6 L824.6,553.8 L825.6,554.0 L826.6,554.3 L827.6,554.6 L828.6,554.9 L829.6,555.2 L830.6,555.5 L831.3,555.6 L831.6,555.6 L832.6,555.8 L833.6,555.9 L834.6,556.0 L835.6,556.1 L836.6,556.2 L837.6,556.3 L838.6,556.4 L839.6,556.5 L840.6,556.5 L841.6,556.6 L842.6,556.6 L843.6,556.6 L844.6,556.6 L845.6,556.5 L846.6,556.5 L847.6,556.4 L848.6,556.3 L849.6,556.2 L850.6,556.1 L851.6,556.0 L852.0,556.0 L852.6,555.9 L853.6,555.5 L854.6,555.0 L855.6,554.4 L856.6,553.8 L857.6,553.3 L858.6,552.9 L859.5,552.8 L859.6,552.8 L860.6,552.9 L861.6,553.2 L862.6,553.5 L863.6,553.9 L864.6,554.4 L865.6,554.8 L866.6,555.2 L867.0,555.3 L867.6,555.5 L868.6,555.8 L869.6,556.1 L870.6,556.4 L871.6,556.8 L872.6,557.1 L873.6,557.3 L874.6,557.6 L875.6,557.8 L876.3,557.9 L876.6,557.9 L877.6,558.1 L878.6,558.2 L879.6,558.3 L880.6,558.4 L881.6,558.5 L882.6,558.6 L883.6,558.6 L883.8,558.6 L884.6,558.6 L885.6,558.5 L886.6,558.4 L887.6,558.2 L888.6,558.0 L889.6,557.9 L890.6,557.7 L891.6,557.6 L892.6,557.5 L893.2,557.5 L893.6,557.5 L894.6,557.5 L895.6,557.6 L896.6,557.7 L897.6,557.8 L898.6,557.9 L899.6,558.0 L900.6,558.2 L901.6,558.3 L902.6,558.5 L903.6,558.7 L904.5,558.8 L904.6,558.8 L905.6,559.0 L906.6,559.3 L907.6,559.6 L908.6,560.0 L909.6,560.3 L910.6,560.7 L911.6,561.0 L912.6,561.3 L913.6,561.6 L914.6,561.8 L915.6,562.0 L915.7,562.0 L916.6,562.1 L917.6,562.1 L918.6,562.2 L919.6,562.2 L920.6,562.2 L921.6,562.3 L922.6,562.3 L923.6,562.3 L924.6,562.3 L925.6,562.4 L926.6,562.4 L927.6,562.5 L928.6,562.5 L929.6,562.6 L930.0,562.6 L930.6,562.7 L931.6,562.9 L932.6,563.1 L933.6,563.4 L934.6,563.7 L935.6,564.1 L936.6,564.4 L937.6,564.8 L938.6,565.2 L939.6,565.6 L940.6,565.9 L941.0,566.0 L941.6,566.2 L942.6,566.5 L943.6,566.8 L944.6,567.2 L945.6,567.6 L946.6,567.9 L947.6,568.2 L948.6,568.5 L949.6,568.7 L950.6,568.9 L951.6,569.1 L952.3,569.1 L952.6,569.1 L953.6,569.1 L954.6,569.0 L955.6,568.9 L956.6,568.8 L957.6,568.6 L958.6,568.5 L959.6,568.3 L960.6,568.2 L961.6,568.1 L962.6,568.0 L963.6,567.9 L964.6,567.8 L965.4,567.8 L965.6,567.8 L966.6,567.8 L967.6,567.9 L968.6,568.0 L969.6,568.1 L970.6,568.2 L971.6,568.3 L972.6,568.5 L973.6,568.6 L974.6,568.8 L974.8,568.8 L975.6,569.0 L976.6,569.2 L977.6,569.5 L978.6,569.9 L979.6,570.2 L980.6,570.5 L981.6,570.8 L982.6,570.9 L983.3,571.0 L983.6,571.0 L984.6,570.8 L985.6,570.4 L986.6,570.0 L987.6,569.6 L988.6,569.3 L989.6,569.1 L989.8,569.1 L990.6,569.1 L991.6,569.2 L992.6,569.3 L993.6,569.4 L994.6,569.6 L995.6,569.7 L996.6,569.9 L997.6,570.1 L998.6,570.3 L999.6,570.5 L1000.6,570.6 L1001.6,570.8 L1002.6,570.9 L1003.0,571.0 L1003.6,571.1 L1004.6,571.2 L1005.6,571.4 L1006.6,571.5 L1007.6,571.7 L1008.6,571.8 L1009.6,571.9 L1010.6,572.0 L1011.4,572.0 L1011.6,572.0 L1012.6,571.8 L1013.6,571.6 L1014.6,571.2 L1015.6,570.9 L1016.6,570.5 L1017.6,570.1 L1018.6,569.9 L1019.6,569.7 L1019.8,569.7 L1020.6,569.7 L1021.6,569.8 L1022.6,569.9 L1023.6,570.0 L1024.6,570.2 L1025.6,570.4 L1026.6,570.6 L1027.6,571.0 L1027.7,571.0" stroke="#00ff00"/>
<path d="M71.6,674.4 L72.6,674.3 L73.6,674.1 L74.6,673.9 L75.6,673.7 L76.6,673.5 L76.9,673.4 L77.6,673.2 L78.6,672.7 L79.6,672.2 L80.6,671.6 L81.6,671.0 L82.6,670.4 L83.6,669.9 L84.6,669.5 L85.6,669.2 L86.3,669.1 L86.6,669.1 L87.6,669.2 L88.6,669.3 L89.6,669.5 L90.6,669.7 L91.6,669.9 L92.6,670.1 L93.6,670.2 L94.6,670.3 L95.6,670.4 L96.6,670.2 L97.6,669.9 L98.6,669.3 L99.6,668.7 L100.6,668.0 L101.6,667.3 L102.6,666.7 L103.6,666.1 L104.6,665.6 L105.0,665.4 L105.6,665.2 L106.6,664.9 L107.6,664.7 L108.6,664.4 L109.6,664.2 L110.6,664.0 L111.6,663.8 L112.6,663.6 L113.6,663.3 L114.4,663.1 L114.6,663.0 L115.6,662.7 L116.6,662.3 L117.6,661.8 L118.6,661.4 L119.6,660.9 L120.6,660.4 L121.6,659.9 L122.6,659.4 L123.6,658.9 L124.6,658.5 L125.6,658.1 L126.6,657.8 L127.6,657.5 L128.6,657.4 L129.4,657.3 L129.6,657.3 L130.6,657.3 L131.6,657.3 L132.6,657.3 L133.6,657.3 L134.6,657.3 L135.0,657.3 L135.6,657.2 L136.6,656.9 L137.6,656.4 L138.6,655.8 L139.6,655.1 L140.6,654.4 L141.6,653.7 L142.6,653.2 L143.6,652.8 L144.6,652.4 L145.6,652.0 L146.6,651.7 L147.6,651.3 L148.6,651.0 L149.6,650.7 L150.6,650.3 L151.6,650.0 L152.6,649.7 L153.6,649.3 L154.6,648.9 L155.6,648.5 L156.6,648.0 L157.6,647.5 L158.6,646.9 L159.6,646.2 L160.6,645.4 L161.6,644.5 L162.6,643.5 L163.2,642.9 L163.6,642.4 L164.6,640.8 L165.6,639.0 L166.6,637.0 L167.6,635.0 L167.9,634.4 L168.6,633.0 L169.6,630.9 L170.6,628.7 L171.6,626.5 L172.6,624.3 L173.6,622.0 L174.4,620.3 L174.6,619.9 L175.6,617.8 L176.6,615.8 L177.6,613.8 L178.6,611.7 L179.6,609.4 L180.1,608.1 L180.6,606.7 L181.6,603.5 L182.6,600.0 L183.6,595.9 L183.8,595.0 L184.6,590.7 L185.6,584.2 L185.9,582.0 L186.6,575.7 L187.6,565.0 L188.6,553.1 L189.6,540.8 L190.3,532.5 L190.6,529.0 L191.6,517.5 L192.6,505.8 L193.6,493.9 L194.6,481.5 L195.0,476.3 L195.6,468.1 L196.6,453.9 L197.6,439.1 L198.6,424.0 L198.7,422.5 L199.6,408.5 L200.6,392.7 L201.6,376.5 L202.6,359.9 L203.5,344.4 L203.6,342.6 L204.6,323.4 L205.6,303.0 L206.6,282.7 L207.6,263.7 L208.3,252.0 L208.6,247.7 L209.6,235.0 L210.0,229.9 L210.6,222.0 L211.6,208.8 L212.6,195.7 L213.6,183.6 L213.7,182.5 L214.6,173.4 L215.5,164.5 L215.6,163.4 L216.6,152.3 L217.6,141.8 L218.6,133.1 L219.6,125.1 L220.4,119.1 L220.6,117.7 L221.6,110.6 L222.6,104.8 L222.7,104.3 L223.6,100.5 L224.6,97.6 L224.9,97.3 L225.6,98.3 L226.6,101.7 L227.2,104.3 L227.6,106.9 L228.6,116.2 L228.9,119.1 L229.6,126.2 L230.6,137.1 L231.0,141.8 L231.6,149.3 L232.6,163.0 L232.7,164.5 L233.6,179.4 L233.9,184.9 L234.6,199.1 L235.6,221.1 L236.0,229.9 L236.6,242.9 L237.6,264.6 L238.3,279.9 L238.6,286.8 L239.2,300.0 L239.6,307.0 L240.6,322.6 L241.5,335.0 L241.6,336.3 L242.6,348.4 L243.6,359.6 L244.6,370.2 L245.6,380.9 L245.7,382.0 L246.6,391.1 L247.6,400.4 L248.6,410.3 L249.6,422.2 L249.8,424.9 L250.6,440.0 L251.6,455.0 L252.1,462.7 L252.6,471.6 L253.6,490.0 L254.6,507.4 L255.1,515.0 L255.6,521.3 L256.6,532.7 L257.4,540.0 L257.6,541.5 L258.6,548.3 L259.6,554.3 L260.6,559.5 L261.6,563.8 L261.9,565.0 L262.6,567.2 L263.6,570.0 L264.6,572.5 L265.6,574.8 L266.6,576.9 L267.2,578.2 L267.6,579.0 L268.6,580.9 L269.6,582.6 L270.6,584.3 L271.6,586.0 L272.6,588.1 L272.8,588.5 L273.6,590.6 L274.6,593.7 L275.6,597.0 L276.6,600.1 L277.5,602.6 L277.6,602.8 L278.6,605.2 L279.6,607.5 L280.6,609.7 L281.6,611.8 L282.6,613.8 L283.6,615.5 L284.6,617.1 L285.0,617.6 L285.6,618.3 L286.6,619.3 L287.6,620.3 L288.6,621.2 L289.6,622.0 L290.6,622.8 L291.6,623.5 L292.5,624.1 L292.6,624.2 L293.6,624.8 L294.6,625.3 L295.6,625.8 L296.6,626.3 L297.6,626.7 L298.6,627.2 L299.6,627.7 L300.6,628.1 L301.6,628.6 L301.9,628.8 L302.6,629.2 L303.6,629.8 L304.6,630.4 L305.6,631.0 L306.6,631.6 L307.6,632.2 L308.6,632.7 L309.4,633.0 L309.6,633.1 L310.6,633.4 L311.6,633.8 L312.6,634.1 L313.6,634.3 L314.6,634.5 L315.0,634.5 L315.6,634.5 L316.6,634.4 L317.6,634.2 L318.6,633.9 L319.6,633.7 L320.6,633.3 L321.6,633.0 L322.5,632.6 L322.6,632.5 L323.6,631.8 L324.6,630.6 L325.6,629.2 L326.6,627.6 L327.6,625.9 L328.6,624.1 L329.1,623.2 L329.6,622.2 L330.6,620.0 L331.6,617.6 L332.6,615.0 L333.6,612.3 L334.6,609.5 L335.6,606.6 L335.7,606.3 L336.6,603.5 L337.6,600.3 L338.6,596.9 L339.6,593.4 L340.6,589.8 L341.6,586.1 L342.2,583.8 L342.6,582.2 L343.6,578.3 L344.6,574.1 L345.6,569.9 L346.6,565.5 L347.6,560.8 L347.9,559.4 L348.6,555.8 L349.6,550.2 L350.6,544.4 L351.6,538.6 L352.6,533.2 L353.6,527.9 L354.6,522.6 L355.6,517.9 L356.3,515.4 L356.6,514.6 L357.6,512.0 L358.6,509.6 L359.6,508.0 L360.5,507.3 L360.6,507.3 L361.6,507.8 L362.6,508.8 L363.6,510.2 L364.6,511.7 L365.6,513.3 L365.7,513.5 L366.6,515.3 L367.6,517.7 L368.6,520.5 L369.6,523.6 L370.6,526.9 L371.3,529.4 L371.6,530.6 L372.6,535.1 L373.6,540.3 L374.6,545.8 L375.6,551.5 L376.0,553.8 L376.6,557.4 L377.6,563.7 L378.6,570.3 L379.6,576.9 L380.6,583.2 L380.7,583.8 L381.6,589.3 L382.6,595.6 L383.6,601.5 L384.6,606.8 L385.4,610.1 L385.6,610.7 L386.6,613.7 L387.6,616.4 L388.6,618.7 L389.6,620.9 L390.6,622.8 L391.6,624.5 L392.0,625.1 L392.6,625.9 L393.6,627.2 L394.6,628.4 L395.6,629.5 L396.6,630.5 L397.6,631.4 L398.6,632.3 L399.6,633.1 L400.6,633.9 L401.4,634.5 L401.6,634.6 L402.6,635.2 L403.6,635.8 L404.6,636.3 L405.6,636.8 L406.6,637.3 L407.6,637.8 L408.6,638.2 L409.6,638.7 L410.6,639.2 L410.7,639.2 L411.6,639.6 L412.6,640.1 L413.6,640.6 L414.6,641.1 L415.6,641.6 L416.6,642.1 L417.6,642.5 L418.6,643.0 L419.6,643.4 L420.1,643.6 L420.6,643.8 L421.6,644.2 L422.6,644.6 L423.6,645.0 L424.6,645.4 L425.6,645.8 L426.6,646.2 L427.6,646.5 L428.6,646.8 L429.6,647.0 L430.6,647.2 L431.3,647.2 L431.6,647.2 L432.6,647.0 L433.6,646.7 L434.6,646.2 L435.6,645.7 L436.6,645.2 L437.6,644.6 L438.6,644.1 L439.6,643.6 L440.6,643.2 L441.6,642.9 L442.5,642.8 L442.6,642.8 L443.6,643.1 L444.6,643.6 L445.6,644.4 L446.6,645.2 L447.6,646.1 L448.6,646.9 L449.6,647.5 L450.6,647.8 L451.0,647.9 L451.6,647.9 L452.6,647.8 L453.6,647.6 L454.6,647.4 L455.6,647.1 L456.6,646.8 L457.6,646.5 L458.6,646.1 L459.6,645.8 L460.6,645.4 L461.6,645.1 L462.6,644.8 L463.6,644.6 L464.6,644.4 L465.6,644.2 L466.6,644.1 L466.9,644.1 L467.6,644.1 L468.6,644.2 L469.6,644.4 L470.6,644.6 L471.6,644.9 L472.6,645.2 L473.6,645.5 L474.6,645.8 L475.6,646.1 L476.6,646.5 L477.6,646.8 L478.6,647.1 L479.6,647.4 L480.6,647.7 L481.6,647.9 L482.6,648.1 L483.6,648.2 L484.6,648.3 L484.7,648.3 L485.6,648.2 L486.6,647.9 L487.6,647.4 L488.6,646.9 L489.6,646.2 L490.6,645.6 L491.6,644.9 L492.6,644.3 L493.6,643.8 L494.6,643.3 L495.0,643.2 L495.6,643.0 L496.6,642.8 L497.6,642.5 L498.6,642.2 L499.6,642.0 L500.6,641.8 L501.6,641.6 L502.6,641.4 L503.6,641.3 L504.4,641.3 L504.6,641.3 L505.6,641.4 L506.6,641.6 L507.6,641.8 L508.6,642.0 L509.6,642.2 L510.6,642.3 L511.0,642.3 L511.6,641.6 L512.6,638.9 L513.6,635.3 L514.6,632.1 L514.7,631.9 L515.6,629.8 L516.6,627.4 L517.6,625.2 L518.6,623.5 L519.4,622.6 L519.6,622.5 L520.6,621.9 L521.6,621.4 L522.6,621.0 L523.6,620.7 L524.6,620.3 L525.6,620.1 L526.6,619.8 L527.6,619.6 L528.6,619.3 L529.6,619.0 L530.6,618.7 L531.6,618.3 L532.6,617.9 L533.6,617.4 L534.6,616.8 L535.6,616.2 L536.6,615.6 L537.6,614.9 L538.6,614.1 L539.6,613.4 L540.6,612.5 L541.6,611.7 L542.0,611.3 L542.6,610.7 L543.6,609.5 L544.6,608.2 L545.6,606.8 L546.6,605.4 L547.6,603.8 L548.6,601.9 L549.6,599.7 L550.6,597.5 L551.6,595.5 L552.3,594.4 L552.6,594.1 L553.6,593.1 L554.6,592.3 L555.6,591.5 L556.6,590.8 L557.6,590.0 L558.6,589.0 L558.8,588.8 L559.6,587.6 L560.6,585.7 L561.6,583.6 L562.6,581.3 L563.6,578.9 L564.6,576.6 L565.6,574.6 L566.4,573.2 L566.6,572.9 L567.6,571.7 L568.6,570.6 L569.6,569.6 L570.6,568.7 L571.6,567.5 L572.6,566.2 L573.4,564.8 L573.6,564.3 L574.6,560.8 L575.6,556.5 L576.5,552.8 L576.6,552.4 L577.6,548.8 L578.6,545.3 L579.6,542.1 L580.0,541.0 L580.6,539.5 L581.6,537.1 L582.6,534.9 L583.6,532.8 L584.6,530.8 L585.6,528.9 L586.3,527.5 L586.6,526.9 L587.6,525.1 L588.6,523.5 L589.6,521.8 L590.6,520.2 L591.6,518.5 L592.6,516.7 L593.6,514.8 L593.8,514.4 L594.6,512.6 L595.6,510.1 L596.6,507.4 L597.6,504.7 L598.6,501.9 L599.6,499.3 L600.3,497.5 L600.6,496.8 L601.6,494.6 L602.6,492.5 L603.6,490.5 L604.6,488.3 L605.6,486.0 L606.6,483.4 L606.9,482.5 L607.6,480.1 L608.6,475.9 L609.6,471.3 L609.9,469.9 L610.6,466.1 L611.6,459.9 L612.6,453.6 L613.3,449.5 L613.6,447.9 L614.6,442.6 L615.6,437.4 L616.6,432.7 L617.2,430.2 L617.6,428.7 L618.6,425.2 L619.6,422.1 L620.6,419.1 L621.6,416.0 L621.8,415.4 L622.6,412.9 L623.6,409.7 L624.6,406.6 L625.6,403.7 L626.3,401.8 L626.6,401.0 L627.6,398.5 L628.6,396.1 L629.6,394.0 L630.3,392.9 L630.6,392.5 L631.6,391.4 L632.6,390.4 L633.6,389.9 L633.7,389.9 L634.6,390.2 L635.6,391.1 L636.6,392.2 L637.1,392.9 L637.6,394.0 L638.6,397.2 L639.6,400.8 L639.9,401.8 L640.6,403.9 L641.6,406.7 L642.6,409.5 L643.6,412.3 L643.9,413.1 L644.6,415.2 L645.6,418.2 L646.6,421.2 L647.6,423.8 L647.9,424.5 L648.6,426.0 L649.6,427.9 L650.6,429.7 L651.6,431.0 L651.9,431.3 L652.6,431.8 L653.6,432.5 L654.6,433.1 L655.6,433.5 L656.4,433.6 L656.6,433.6 L657.6,433.3 L658.6,432.8 L659.6,432.1 L660.6,431.3 L661.5,430.7 L661.6,430.6 L662.6,429.9 L663.6,429.1 L664.6,428.2 L665.6,427.3 L666.6,426.3 L667.6,425.3 L668.6,424.3 L669.5,423.3 L669.6,423.2 L670.6,422.0 L671.6,420.8 L672.6,419.5 L673.6,418.2 L674.6,416.8 L675.6,415.3 L676.3,414.3 L676.6,413.8 L677.6,412.2 L678.6,410.5 L679.6,408.7 L680.6,406.8 L681.6,404.8 L681.9,404.1 L682.6,402.4 L683.6,399.7 L684.6,396.8 L685.6,393.7 L685.9,392.7 L686.6,390.2 L687.6,386.2 L688.6,381.9 L688.7,381.4 L689.6,376.5 L690.0,374.5 L690.6,372.0 L691.6,368.4 L692.6,365.0 L693.6,361.7 L694.6,358.2 L695.1,356.3 L695.6,354.2 L696.6,349.6 L697.6,344.8 L698.6,339.9 L699.6,335.1 L700.6,330.4 L700.7,330.0 L701.6,326.2 L702.6,322.0 L703.6,318.0 L704.6,313.9 L705.6,309.7 L706.0,308.0 L706.6,305.2 L707.6,300.2 L708.6,295.4 L709.6,291.1 L709.7,290.7 L710.6,287.8 L711.6,284.9 L712.6,282.3 L712.7,282.0 L713.6,279.6 L714.6,277.0 L715.6,274.4 L716.6,272.0 L717.6,269.9 L718.4,268.4 L718.6,268.1 L719.6,266.7 L720.6,265.5 L721.6,264.3 L722.6,263.1 L722.9,262.7 L723.6,261.8 L724.6,260.4 L725.6,259.0 L726.3,258.0 L726.6,257.5 L727.6,255.9 L728.6,254.2 L729.6,252.4 L729.7,252.2 L730.6,250.4 L731.6,248.4 L732.4,246.6 L732.6,246.1 L733.6,243.8 L734.6,241.3 L734.9,240.4 L735.6,237.9 L736.6,233.8 L737.6,229.3 L737.8,228.4 L738.6,224.3 L739.6,218.8 L740.0,216.8 L740.6,214.1 L741.6,209.8 L742.6,205.4 L743.6,200.1 L744.6,195.0 L744.8,194.1 L745.6,190.9 L746.6,187.6 L747.2,186.2 L747.6,185.7 L748.6,184.5 L749.6,183.8 L749.8,183.8 L750.6,184.1 L751.6,185.1 L752.4,186.0 L752.6,186.3 L753.6,188.2 L754.6,190.8 L755.6,194.1 L756.6,200.1 L757.3,205.4 L757.6,208.0 L758.5,216.8 L758.6,217.8 L759.6,228.1 L760.4,239.5 L760.6,241.9 L761.3,250.8 L761.6,258.9 L762.3,281.3 L762.6,286.5 L763.6,299.4 L764.2,307.0 L764.6,313.1 L765.6,328.1 L766.6,339.3 L767.5,346.9 L767.6,347.5 L768.6,352.3 L769.6,356.0 L770.3,358.2 L770.6,359.0 L771.6,361.3 L772.6,363.3 L773.6,365.1 L774.6,366.8 L775.0,367.5 L775.6,368.5 L776.6,369.9 L777.6,371.3 L778.6,372.9 L779.6,374.8 L779.7,375.0 L780.6,377.7 L781.6,381.4 L782.6,385.8 L783.5,390.1 L783.6,390.6 L784.6,397.0 L785.6,404.1 L786.3,408.8 L786.6,410.6 L787.6,416.7 L788.6,422.5 L789.6,428.1 L790.2,431.3 L790.6,433.3 L791.6,438.2 L792.6,442.9 L793.6,447.6 L793.9,449.0 L794.6,452.4 L795.6,457.3 L796.6,462.0 L797.5,466.0 L797.6,466.4 L798.6,470.6 L799.6,474.7 L800.6,478.4 L801.6,481.3 L801.9,481.9 L802.6,483.0 L803.6,484.4 L804.6,485.5 L805.6,486.6 L806.6,487.5 L807.6,488.4 L808.6,489.2 L808.8,489.4 L809.6,490.1 L810.6,491.0 L811.6,491.9 L812.6,492.8 L813.6,493.6 L814.6,494.2 L815.6,494.6 L816.3,494.7 L816.6,494.7 L817.6,494.5 L818.6,494.2 L819.6,493.8 L820.6,493.3 L821.6,493.0 L822.6,492.8 L822.9,492.8 L823.6,492.9 L824.6,493.1 L825.6,493.4 L826.6,493.7 L827.6,494.1 L828.6,494.6 L829.6,495.0 L830.6,495.4 L831.3,495.6 L831.6,495.7 L832.6,496.0 L833.6,496.3 L834.6,496.7 L835.6,497.0 L836.6,497.3 L837.6,497.5 L838.6,497.7 L839.6,497.8 L839.8,497.8 L840.6,497.8 L841.6,497.7 L842.6,497.7 L843.6,497.6 L844.6,497.4 L845.6,497.3 L846.6,497.2 L847.6,497.0 L848.6,496.8 L849.6,496.6 L850.1,496.5 L850.6,496.3 L851.6,495.7 L852.6,495.0 L853.6,494.1 L854.6,493.2 L855.6,492.4 L856.6,491.9 L857.6,491.6 L858.6,491.8 L859.6,492.1 L860.6,492.5 L861.6,493.1 L862.6,493.7 L863.6,494.4 L864.6,495.1 L865.6,495.7 L866.5,496.3 L866.6,496.4 L867.6,497.1 L868.6,497.9 L869.6,498.7 L870.6,499.6 L871.6,500.3 L872.6,501.0 L873.6,501.5 L874.0,501.6 L874.6,501.7 L875.6,501.8 L876.6,502.0 L877.6,502.1 L878.2,502.2 L878.6,502.3 L879.6,503.0 L880.6,503.8 L881.6,504.7 L882.6,505.5 L883.6,505.9 L883.8,505.9 L884.6,505.9 L885.6,505.7 L886.6,505.6 L887.6,505.4 L888.6,505.1 L889.6,504.9 L890.6,504.7 L891.6,504.5 L892.6,504.4 L893.2,504.4 L893.6,504.4 L894.6,504.4 L895.6,504.4 L896.6,504.4 L897.6,504.4 L898.6,504.5 L899.6,504.5 L900.6,504.5 L901.6,504.5 L902.6,504.5 L903.6,504.6 L904.5,504.6 L904.6,504.6 L905.6,504.9 L906.6,505.3 L907.6,505.9 L908.6,506.7 L909.6,507.4 L910.6,508.2 L911.6,508.9 L912.6,509.6 L913.6,510.0 L914.3,510.2 L914.6,510.2 L915.6,510.4 L916.6,510.5 L917.6,510.6 L918.6,510.6 L919.6,510.7 L920.6,510.8 L921.6,510.8 L922.6,510.9 L923.6,510.9 L924.6,511.0 L925.6,511.0 L926.6,511.1 L927.6,511.2 L928.6,511.3 L929.6,511.4 L930.0,511.4 L930.6,511.5 L931.6,511.7 L932.6,511.9 L933.6,512.1 L934.6,512.3 L935.6,512.6 L936.6,512.9 L937.6,513.1 L938.6,513.4 L939.6,513.8 L940.6,514.1 L941.0,514.2 L941.6,514.4 L942.6,514.9 L943.6,515.4 L944.6,515.9 L945.6,516.5 L946.6,517.1 L947.6,517.7 L948.6,518.3 L949.6,518.8 L950.6,519.2 L951.6,519.5 L952.6,519.7 L953.2,519.8 L953.6,519.8 L954.6,519.7 L955.6,519.6 L956.6,519.4 L957.6,519.1 L958.6,518.9 L959.6,518.6 L960.6,518.3 L961.6,518.0 L962.6,517.8 L963.6,517.5 L964.6,517.3 L965.6,517.1 L966.6,517.0 L967.3,517.0 L967.6,517.0 L968.6,517.3 L969.6,517.8 L970.6,518.4 L971.6,519.0 L972.6,519.6 L972.9,519.8 L973.6,520.2 L974.6,520.9 L975.6,521.6 L976.6,522.2 L977.6,522.8 L978.6,523.1 L979.1,523.2 L979.6,523.1 L980.6,522.6 L981.6,521.9 L982.6,521.0 L983.6,520.0 L984.6,518.9 L985.6,518.0 L986.6,517.2 L987.6,516.7 L988.0,516.6 L988.6,516.5 L989.6,516.4 L990.6,516.3 L991.6,516.3 L992.6,516.2 L993.6,516.2 L994.6,516.3 L995.6,516.5 L996.6,516.8 L997.6,517.2 L998.6,517.6 L999.6,518.1 L1000.6,518.5 L1001.6,518.9 L1002.6,519.3 L1003.0,519.4 L1003.6,519.6 L1004.6,519.9 L1005.6,520.3 L1006.6,520.6 L1007.6,521.0 L1008.6,521.2 L1009.6,521.5 L1010.6,521.6 L1011.4,521.7 L1011.6,521.7 L1012.6,521.2 L1013.6,520.4 L1014.6,519.4 L1015.6,518.2 L1016.6,517.0 L1017.6,516.0 L1018.6,515.2 L1019.6,514.7 L1019.8,514.7 L1020.6,514.7 L1021.6,514.7 L1022.6,514.7 L1023.6,514.7 L1024.6,515.0 L1025.6,515.5 L1026.6,516.2 L1027.6,517.1 L1027.7,517.2" stroke="#ff0000"/>
<path d="M71.6,655.0 L72.6,654.6 L73.6,654.2 L74.6,653.9 L75.6,653.6 L76.6,653.3 L77.6,653.0 L78.6,652.7 L79.6,652.5 L80.6,652.3 L81.6,652.1 L82.6,652.0 L83.6,651.9 L84.6,651.8 L85.6,651.7 L86.3,651.7 L86.6,651.7 L87.6,651.8 L88.6,651.9 L89.6,652.0 L90.6,652.2 L91.6,652.4 L92.6,652.5 L93.6,652.7 L94.6,652.8 L95.6,652.8 L96.6,652.7 L97.6,652.6 L98.6,652.4 L99.6,652.2 L100.6,652.0 L101.6,651.7 L102.6,651.5 L103.6,651.2 L104.6,650.9 L105.6,650.7 L106.6,650.5 L106.9,650.4 L107.6,650.3 L108.6,650.1 L109.6,649.9 L110.6,649.7 L111.6,649.5 L112.6,649.3 L113.6,649.1 L114.6,649.0 L115.6,648.8 L116.6,648.6 L117.6,648.4 L118.6,648.2 L119.6,648.1 L120.6,647.9 L121.6,647.8 L122.6,647.7 L123.6,647.5 L124.6,647.4 L125.6,647.3 L126.6,647.3 L127.5,647.2 L127.6,647.2 L128.6,647.2 L129.6,647.1 L130.6,647.1 L131.6,647.1 L132.6,647.1 L133.6,647.1 L134.6,647.0 L135.0,647.0 L135.6,646.9 L136.6,646.7 L137.6,646.3 L138.6,646.0 L139.6,645.6 L140.6,645.3 L140.7,645.3 L141.6,645.1 L142.6,645.0 L143.6,644.8 L144.6,644.7 L145.6,644.5 L146.6,644.4 L147.6,644.3 L148.6,644.2 L149.6,644.1 L150.6,644.0 L151.6,643.9 L152.6,643.7 L153.6,643.6 L154.6,643.5 L155.6,643.3 L156.6,643.1 L157.6,642.9 L158.6,642.6 L159.6,642.3 L160.6,641.9 L161.6,641.4 L162.6,640.9 L163.6,640.4 L164.6,639.9 L165.0,639.7 L165.6,639.3 L166.6,638.7 L167.6,638.0 L168.6,637.3 L169.6,636.5 L170.6,635.8 L171.6,634.9 L172.6,634.1 L173.6,633.2 L174.4,632.5 L174.6,632.3 L175.6,631.4 L176.6,630.5 L177.6,629.6 L178.6,628.7 L179.6,627.6 L180.6,626.5 L181.6,625.2 L182.6,623.7 L182.9,623.2 L183.6,621.7 L184.6,618.8 L185.6,615.5 L186.6,611.9 L187.6,607.8 L188.6,603.2 L189.5,598.8 L189.6,598.3 L190.6,592.9 L191.6,587.2 L192.5,582.0 L192.6,581.4 L193.6,575.7 L194.6,570.1 L195.6,564.5 L196.6,558.9 L197.6,553.1 L198.6,547.1 L199.6,540.9 L200.6,534.3 L201.1,530.8 L201.6,527.0 L202.6,518.6 L203.6,509.6 L204.6,500.5 L205.6,491.9 L205.7,491.1 L206.6,484.0 L207.6,476.2 L208.6,468.7 L209.6,461.3 L210.2,457.0 L210.6,454.2 L211.6,447.1 L212.6,440.6 L212.7,440.0 L213.6,435.1 L214.6,430.0 L215.6,425.4 L215.7,424.9 L216.6,421.0 L217.6,416.7 L218.6,412.7 L219.6,409.0 L220.4,406.3 L220.6,405.7 L221.6,402.4 L222.6,399.1 L223.6,396.6 L224.6,395.2 L224.7,395.2 L225.6,396.2 L226.6,398.6 L227.6,402.0 L228.6,405.6 L228.8,406.3 L229.6,409.8 L230.6,415.1 L231.6,421.1 L232.2,424.9 L232.6,427.8 L233.6,435.8 L234.1,440.0 L234.6,444.2 L235.6,452.8 L236.6,461.8 L236.7,462.7 L237.6,471.8 L238.6,482.4 L239.4,490.0 L239.6,491.6 L240.6,499.5 L241.6,506.7 L242.6,513.2 L242.9,515.0 L243.6,518.8 L244.6,523.7 L245.6,528.3 L246.6,532.8 L247.6,537.5 L248.1,540.0 L248.6,542.6 L249.6,547.8 L250.6,553.2 L251.6,558.9 L252.6,565.0 L253.6,572.6 L254.6,581.0 L255.6,588.3 L255.9,590.0 L256.6,593.1 L257.6,596.9 L258.5,599.5 L258.6,599.7 L259.6,601.8 L260.6,603.7 L261.6,605.3 L262.6,606.8 L263.6,608.1 L264.4,609.1 L264.6,609.3 L265.6,610.3 L266.6,611.3 L267.6,612.1 L268.6,612.9 L269.6,613.7 L270.6,614.5 L271.6,615.4 L271.9,615.7 L272.6,616.4 L273.6,617.5 L274.6,618.7 L275.6,619.9 L276.6,621.1 L277.6,622.3 L278.6,623.3 L279.4,624.1 L279.6,624.3 L280.6,625.1 L281.6,625.9 L282.6,626.8 L283.6,627.5 L284.6,628.3 L285.6,629.0 L286.6,629.6 L287.6,630.1 L288.6,630.6 L288.8,630.7 L289.6,631.0 L290.6,631.3 L291.6,631.6 L292.6,631.8 L293.6,632.0 L294.6,632.3 L295.6,632.5 L296.6,632.7 L297.6,632.9 L298.6,633.1 L299.6,633.4 L300.0,633.5 L300.6,633.7 L301.6,634.0 L302.6,634.3 L303.6,634.7 L304.6,635.0 L305.6,635.4 L306.6,635.7 L307.6,635.9 L308.6,636.2 L309.4,636.3 L309.6,636.3 L310.6,636.4 L311.6,636.6 L312.6,636.7 L313.6,636.7 L314.6,636.8 L315.6,636.9 L316.6,636.9 L316.9,636.9 L317.6,636.9 L318.6,636.8 L319.6,636.6 L320.6,636.4 L321.6,636.2 L322.6,635.9 L323.6,635.6 L324.4,635.4 L324.6,635.3 L325.6,634.9 L326.6,634.3 L327.6,633.6 L328.6,632.8 L329.6,631.9 L330.6,631.0 L331.6,630.0 L332.6,629.1 L333.6,628.1 L333.8,627.9 L334.6,627.1 L335.6,626.0 L336.6,624.8 L337.6,623.6 L338.6,622.3 L339.6,621.0 L340.6,619.6 L341.6,618.1 L342.6,616.6 L343.2,615.7 L343.6,615.0 L344.6,613.3 L345.6,611.4 L346.6,609.4 L347.6,607.4 L348.6,605.3 L349.6,603.1 L350.6,600.9 L350.7,600.7 L351.6,598.6 L352.6,596.0 L353.6,593.3 L354.6,590.7 L355.6,588.4 L356.3,587.0 L356.6,586.5 L357.6,584.6 L358.6,582.8 L359.6,581.3 L360.6,580.1 L361.6,579.6 L362.6,579.9 L363.6,580.6 L364.6,581.5 L365.6,582.6 L366.6,583.8 L367.6,585.0 L368.6,586.6 L369.6,588.5 L370.6,590.6 L371.6,593.0 L372.6,595.4 L373.2,596.9 L373.6,598.0 L374.6,600.9 L375.6,604.0 L376.6,607.2 L377.6,610.3 L378.6,613.3 L378.8,613.8 L379.6,615.9 L380.6,618.6 L381.6,621.1 L382.6,623.5 L383.6,625.5 L384.5,627.0 L384.6,627.1 L385.6,628.3 L386.6,629.3 L387.6,630.3 L388.6,631.1 L389.6,631.9 L390.6,632.6 L391.6,633.3 L392.6,633.9 L393.6,634.4 L393.8,634.5 L394.6,634.8 L395.6,635.2 L396.6,635.6 L397.6,635.9 L398.6,636.2 L399.6,636.5 L400.6,636.7 L401.6,637.0 L402.6,637.2 L403.2,637.3 L403.6,637.4 L404.6,637.5 L405.6,637.7 L406.6,637.8 L407.6,637.9 L408.6,638.0 L409.6,638.2 L409.8,638.2 L410.6,638.3 L411.6,638.5 L412.6,638.7 L413.6,638.8 L414.6,639.0 L415.6,639.2 L416.6,639.4 L417.6,639.5 L418.6,639.7 L419.0,639.8 L419.6,639.9 L420.6,640.1 L421.6,640.4 L422.6,640.6 L423.6,640.9 L424.6,641.2 L425.6,641.4 L426.6,641.6 L427.6,641.9 L428.6,642.0 L429.6,642.2 L430.6,642.3 L431.3,642.3 L431.6,642.3 L432.6,642.2 L433.6,642.0 L434.6,641.8 L435.6,641.5 L436.6,641.2 L437.6,640.9 L438.6,640.7 L439.6,640.4 L440.6,640.2 L441.6,640.1 L442.5,640.0 L442.6,640.0 L443.6,640.1 L444.6,640.4 L445.6,640.7 L446.6,641.1 L447.6,641.6 L448.6,642.0 L449.6,642.3 L450.6,642.6 L451.6,642.8 L451.9,642.8 L452.6,642.8 L453.6,642.7 L454.6,642.6 L455.6,642.5 L456.6,642.3 L457.6,642.2 L458.6,642.0 L459.6,641.8 L460.6,641.6 L461.6,641.5 L462.6,641.3 L463.6,641.2 L464.6,641.0 L465.6,641.0 L466.6,640.9 L466.9,640.9 L467.6,640.9 L468.6,641.0 L469.6,641.0 L470.6,641.1 L471.6,641.2 L472.6,641.3 L473.6,641.4 L474.6,641.5 L475.6,641.7 L476.6,641.8 L477.6,641.9 L478.6,642.0 L479.6,642.2 L480.6,642.3 L481.6,642.4 L482.6,642.5 L483.6,642.5 L484.6,642.6 L485.6,642.6 L485.7,642.6 L486.6,642.5 L487.6,642.4 L488.6,642.2 L489.6,641.9 L490.6,641.6 L491.6,641.3 L492.6,641.0 L493.6,640.8 L494.6,640.5 L495.0,640.4 L495.6,640.3 L496.6,640.0 L497.6,639.8 L498.6,639.5 L499.6,639.2 L500.6,639.0 L501.6,638.8 L502.6,638.7 L503.6,638.5 L504.4,638.5 L504.6,638.5 L505.6,638.5 L506.6,638.5 L507.6,638.5 L508.6,638.5 L509.6,638.5 L510.6,638.5 L511.0,638.5 L511.6,638.3 L512.6,637.5 L513.6,636.4 L514.6,635.0 L515.6,633.7 L516.6,632.6 L517.6,631.9 L518.6,631.6 L519.6,631.3 L520.6,631.1 L521.6,630.9 L522.6,630.7 L523.6,630.5 L524.6,630.4 L525.6,630.3 L526.6,630.1 L527.6,630.0 L528.6,629.8 L529.6,629.7 L530.6,629.5 L531.6,629.3 L532.6,629.1 L533.6,628.8 L534.6,628.6 L535.6,628.3 L536.6,628.0 L537.6,627.7 L538.6,627.4 L539.6,627.1 L540.6,626.7 L541.6,626.3 L542.6,625.9 L543.6,625.5 L543.8,625.4 L544.6,624.9 L545.6,624.2 L546.6,623.5 L547.6,622.6 L548.6,621.8 L549.6,620.9 L550.6,620.2 L551.3,619.7 L551.6,619.5 L552.6,619.0 L553.6,618.5 L554.6,618.1 L555.6,617.6 L556.6,617.2 L557.6,616.7 L558.6,616.1 L558.8,616.0 L559.6,615.4 L560.6,614.5 L561.6,613.5 L562.6,612.4 L563.6,611.3 L564.6,610.3 L565.6,609.4 L566.4,608.8 L566.6,608.7 L567.6,608.2 L568.6,607.7 L569.6,607.4 L570.6,607.0 L571.6,606.6 L572.6,606.1 L573.5,605.5 L573.6,605.4 L574.6,604.2 L575.6,602.5 L576.6,600.6 L577.6,598.6 L578.6,596.7 L579.6,595.2 L580.6,594.1 L581.6,593.1 L582.6,592.1 L583.6,591.2 L584.6,590.3 L585.6,589.5 L586.6,588.7 L587.6,588.0 L588.6,587.2 L589.6,586.4 L590.6,585.6 L591.6,584.7 L592.6,583.9 L593.0,583.5 L593.6,582.9 L594.6,582.0 L595.6,581.0 L596.6,580.0 L597.6,579.0 L598.6,577.9 L599.6,576.9 L600.2,576.3 L600.6,575.9 L601.6,574.9 L602.6,574.0 L603.6,573.0 L604.6,572.0 L605.6,570.9 L606.6,569.7 L607.6,568.3 L608.6,566.3 L609.6,563.9 L610.6,561.2 L611.6,558.5 L612.6,556.0 L612.7,555.8 L613.6,553.9 L614.6,551.8 L615.6,549.7 L616.6,547.8 L617.6,545.9 L618.4,544.5 L618.6,544.2 L619.6,542.5 L620.6,541.0 L621.6,539.5 L622.6,538.1 L623.6,536.7 L624.1,536.0 L624.6,535.3 L625.6,533.9 L626.6,532.5 L627.6,531.2 L628.6,530.1 L629.2,529.6 L629.6,529.4 L630.6,528.8 L631.6,528.3 L632.6,527.9 L633.6,527.7 L633.7,527.7 L634.6,527.9 L635.6,528.3 L636.6,528.9 L637.6,529.5 L637.7,529.6 L638.6,530.5 L639.6,531.7 L640.6,533.2 L641.6,534.6 L642.2,535.4 L642.6,535.9 L643.6,537.2 L644.6,538.5 L645.6,539.7 L646.6,540.9 L646.8,541.1 L647.6,541.9 L648.6,543.0 L649.6,543.9 L650.6,544.7 L651.3,545.1 L651.6,545.2 L652.6,545.6 L653.6,545.9 L654.6,546.2 L655.6,546.4 L656.6,546.5 L657.0,546.5 L657.6,546.5 L658.6,546.3 L659.6,546.1 L660.6,545.8 L661.6,545.5 L662.6,545.1 L663.6,544.8 L663.8,544.7 L664.6,544.4 L665.6,543.9 L666.6,543.4 L667.6,542.9 L668.6,542.3 L669.6,541.8 L670.6,541.2 L671.6,540.6 L671.7,540.5 L672.6,539.9 L673.6,539.3 L674.6,538.6 L675.6,537.9 L676.6,537.2 L677.6,536.5 L678.6,535.7 L679.6,534.9 L679.7,534.8 L680.6,534.0 L681.6,533.0 L682.6,532.0 L683.6,530.9 L684.6,529.8 L685.6,528.6 L686.5,527.5 L686.6,527.4 L687.6,525.9 L688.6,524.3 L689.6,522.7 L690.0,522.0 L690.6,521.0 L691.6,519.1 L692.6,517.3 L693.6,515.3 L694.6,513.4 L695.1,512.5 L695.6,511.6 L696.6,509.7 L697.6,507.9 L698.6,506.0 L699.6,504.2 L700.6,502.3 L701.6,500.4 L702.6,498.5 L703.6,496.6 L704.6,494.6 L705.0,493.8 L705.6,492.5 L706.6,490.2 L707.6,487.7 L708.6,485.4 L709.6,483.2 L710.6,481.5 L710.7,481.3 L711.6,480.2 L712.6,479.0 L713.6,478.0 L714.6,477.0 L715.6,476.1 L716.6,475.3 L717.5,474.5 L717.6,474.4 L718.6,473.6 L719.6,472.9 L720.6,472.2 L721.6,471.5 L722.6,470.8 L723.6,470.1 L724.6,469.4 L725.4,468.8 L725.6,468.6 L726.6,467.9 L727.6,467.1 L728.6,466.4 L729.6,465.6 L730.6,464.7 L731.6,463.7 L732.2,463.1 L732.6,462.6 L733.6,461.1 L734.6,459.3 L735.6,457.5 L736.2,456.3 L736.6,455.5 L737.6,453.3 L738.6,450.9 L739.6,448.6 L740.2,447.2 L740.6,446.3 L741.6,444.0 L742.6,441.7 L743.6,439.7 L744.2,438.7 L744.6,438.1 L745.6,436.8 L746.6,435.6 L747.4,435.0 L747.6,434.9 L748.6,434.4 L749.6,434.1 L750.2,434.0 L750.6,434.1 L751.6,434.7 L752.6,435.8 L753.6,437.0 L754.6,439.0 L755.6,441.7 L756.6,445.0 L757.6,449.4 L758.6,454.7 L758.9,456.3 L759.6,460.5 L760.6,467.2 L761.2,471.1 L761.6,473.7 L762.6,480.1 L763.5,485.8 L763.6,486.4 L764.6,493.1 L765.6,499.0 L765.7,499.5 L766.6,503.4 L767.6,507.1 L768.6,509.7 L769.6,511.1 L770.6,512.2 L771.6,513.1 L772.6,514.0 L773.1,514.5 L773.6,515.0 L774.6,515.9 L775.6,516.8 L776.6,517.6 L777.6,518.6 L778.6,519.6 L779.6,520.9 L779.7,521.0 L780.6,522.7 L781.6,525.0 L782.6,527.6 L783.6,530.4 L784.4,532.6 L784.6,533.2 L785.6,536.1 L786.6,539.2 L787.6,542.2 L788.2,543.8 L788.6,544.7 L789.6,547.0 L790.6,549.1 L791.6,551.1 L792.6,553.0 L793.6,554.9 L794.6,556.7 L794.7,556.9 L795.6,558.5 L796.6,560.4 L797.6,562.2 L798.6,563.9 L799.6,565.3 L800.4,566.3 L800.6,566.5 L801.6,567.4 L802.6,568.3 L803.6,569.0 L804.6,569.7 L805.6,570.3 L806.6,570.9 L806.9,571.0 L807.6,571.3 L808.6,571.7 L809.6,572.1 L810.6,572.5 L811.6,572.8 L812.6,573.2 L813.6,573.4 L814.6,573.6 L815.6,573.8 L816.3,573.8 L816.6,573.8 L817.6,573.7 L818.6,573.6 L819.6,573.4 L820.6,573.3 L821.6,573.1 L822.6,573.0 L823.6,572.9 L823.8,572.9 L824.6,572.9 L825.6,573.0 L826.6,573.1 L827.6,573.2 L828.6,573.4 L829.6,573.5 L830.6,573.7 L831.6,573.9 L832.6,574.1 L833.6,574.3 L834.6,574.4 L835.6,574.6 L836.6,574.7 L837.6,574.8 L838.6,574.8 L838.8,574.8 L839.6,574.8 L840.6,574.8 L841.6,574.8 L842.6,574.7 L843.6,574.7 L844.6,574.7 L845.6,574.6 L846.6,574.6 L847.6,574.5 L848.6,574.5 L849.6,574.4 L850.1,574.4 L850.6,574.3 L851.6,574.1 L852.6,573.8 L853.6,573.4 L854.6,573.0 L855.6,572.6 L856.6,572.3 L857.6,572.1 L858.5,572.0 L858.6,572.0 L859.6,572.1 L860.6,572.3 L861.6,572.6 L862.6,572.9 L863.6,573.3 L864.6,573.7 L865.6,574.0 L866.6,574.4 L867.0,574.5 L867.6,574.7 L868.6,574.9 L869.6,575.2 L870.6,575.5 L871.6,575.8 L872.6,576.0 L873.6,576.3 L874.6,576.5 L875.6,576.8 L876.3,577.0 L876.6,577.1 L877.6,577.4 L878.6,577.7 L879.6,578.1 L880.6,578.4 L881.6,578.7 L882.6,578.9 L883.6,579.0 L883.8,579.0 L884.6,579.0 L885.6,578.9 L886.6,578.8 L887.6,578.7 L888.6,578.5 L889.6,578.4 L890.6,578.3 L891.6,578.2 L892.6,578.1 L893.2,578.1 L893.6,578.1 L894.6,578.1 L895.6,578.1 L896.6,578.1 L897.6,578.1 L898.6,578.1 L899.6,578.1 L900.6,578.1 L901.6,578.1 L902.6,578.1 L903.6,578.1 L904.5,578.1 L904.6,578.1 L905.6,578.2 L906.6,578.4 L907.6,578.6 L908.6,578.9 L909.6,579.2 L910.6,579.5 L911.6,579.8 L912.6,580.1 L913.6,580.3 L914.6,580.5 L915.6,580.6 L915.7,580.6 L916.6,580.6 L917.6,580.6 L918.6,580.7 L919.6,580.7 L920.6,580.7 L921.6,580.7 L922.6,580.7 L923.6,580.7 L924.6,580.7 L925.6,580.7 L926.6,580.7 L927.6,580.8 L928.6,580.8 L929.6,580.8 L930.0,580.8 L930.6,580.8 L931.6,580.9 L932.6,581.0 L933.6,581.1 L934.6,581.3 L935.6,581.4 L936.6,581.6 L937.6,581.7 L938.6,581.9 L939.6,582.1 L940.6,582.2 L941.0,582.3 L941.6,582.4 L942.6,582.6 L943.6,582.8 L944.6,583.1 L945.6,583.3 L946.6,583.6 L947.6,583.8 L948.6,584.1 L949.6,584.3 L950.6,584.5 L951.6,584.6 L952.6,584.7 L953.2,584.7 L953.6,584.7 L954.6,584.7 L955.6,584.6 L956.6,584.5 L957.6,584.4 L958.6,584.3 L959.6,584.2 L960.6,584.1 L961.6,584.0 L962.6,583.9 L963.6,583.8 L964.6,583.7 L965.6,583.7 L966.6,583.6 L967.3,583.6 L967.6,583.6 L968.6,583.7 L969.6,583.9 L970.6,584.2 L971.6,584.4 L972.6,584.7 L973.6,585.0 L973.9,585.1 L974.6,585.3 L975.6,585.7 L976.6,586.0 L977.6,586.4 L978.6,586.7 L979.6,586.9 L980.4,587.0 L980.6,587.0 L981.6,586.8 L982.6,586.4 L983.6,585.9 L984.6,585.4 L985.6,584.8 L986.6,584.3 L987.6,583.8 L988.6,583.4 L989.6,583.2 L989.8,583.2 L990.6,583.2 L991.6,583.3 L992.6,583.4 L993.6,583.5 L994.6,583.6 L995.6,583.8 L996.6,584.0 L997.6,584.1 L998.6,584.3 L999.6,584.5 L1000.6,584.7 L1001.6,584.9 L1002.6,585.0 L1003.0,585.1 L1003.6,585.2 L1004.6,585.4 L1005.6,585.6 L1006.6,585.8 L1007.6,586.0 L1008.6,586.1 L1009.6,586.3 L1010.6,586.4 L1011.4,586.4 L1011.6,586.4 L1012.6,586.2 L1013.6,585.8 L1014.6,585.3 L1015.6,584.8 L1016.6,584.3 L1017.6,583.8 L1018.6,583.4 L1019.6,583.2 L1019.8,583.2 L1020.6,583.2 L1021.6,583.2 L1022.6,583.3 L1023.6,583.3 L1024.6,583.4 L1025.6,583.6 L1026.6,583.8 L1027.6,584.1 L1027.7,584.1" stroke="#0000ff"/>
</g>
<rect x="71.2" y="8.6" width="957.3" height="744.3" fill="none" stroke="#000" stroke-width="2.6" stroke-linejoin="round"/>
<path d="M71.20,752.9 V768.6 M150.97,752.9 V761.2 M230.75,752.9 V768.6 M310.52,752.9 V761.2 M390.30,752.9 V768.6 M470.07,752.9 V761.2 M549.85,752.9 V768.6 M629.62,752.9 V761.2 M709.40,752.9 V768.6 M789.17,752.9 V761.2 M868.95,752.9 V768.6 M948.73,752.9 V761.2 M1028.50,752.9 V768.6" stroke="#000" stroke-width="2.6" fill="none"/>
<g font-family="'Liberation Sans', sans-serif" font-size="27.3" fill="#000" style="font-kerning:none">
<path d="M763,0 H583 V1147 Q518,1085 412.5,1023 Q307,961 223,930 V1104 Q374,1175 487,1276 Q600,1377 647,1472 H763 Z" transform="translate(40.53,799.9) scale(0.013330,-0.014330)"/>
<text transform="translate(55.72,799.9) scale(1,1.118)">400</text>
<path d="M763,0 H583 V1147 Q518,1085 412.5,1023 Q307,961 223,930 V1104 Q374,1175 487,1276 Q600,1377 647,1472 H763 Z" transform="translate(200.08,799.9) scale(0.013330,-0.014330)"/>
<text transform="translate(215.27,799.9) scale(1,1.118)">450</text>
<path d="M763,0 H583 V1147 Q518,1085 412.5,1023 Q307,961 223,930 V1104 Q374,1175 487,1276 Q600,1377 647,1472 H763 Z" transform="translate(359.63,799.9) scale(0.013330,-0.014330)"/>
<text transform="translate(374.82,799.9) scale(1,1.118)">500</text>
<path d="M763,0 H583 V1147 Q518,1085 412.5,1023 Q307,961 223,930 V1104 Q374,1175 487,1276 Q600,1377 647,1472 H763 Z" transform="translate(519.18,799.9) scale(0.013330,-0.014330)"/>
<text transform="translate(534.37,799.9) scale(1,1.118)">550</text>
<path d="M763,0 H583 V1147 Q518,1085 412.5,1023 Q307,961 223,930 V1104 Q374,1175 487,1276 Q600,1377 647,1472 H763 Z" transform="translate(678.73,799.9) scale(0.013330,-0.014330)"/>
<text transform="translate(693.92,799.9) scale(1,1.118)">600</text>
<path d="M763,0 H583 V1147 Q518,1085 412.5,1023 Q307,961 223,930 V1104 Q374,1175 487,1276 Q600,1377 647,1472 H763 Z" transform="translate(838.28,799.9) scale(0.013330,-0.014330)"/>
<text transform="translate(853.47,799.9) scale(1,1.118)">650</text>
<path d="M763,0 H583 V1147 Q518,1085 412.5,1023 Q307,961 223,930 V1104 Q374,1175 487,1276 Q600,1377 647,1472 H763 Z" transform="translate(997.83,799.9) scale(0.013330,-0.014330)"/>
<text transform="translate(1013.02,799.9) scale(1,1.118)">700</text>
</g>
<g stroke-width="3.5" stroke-linecap="round">
<line x1="322.6" y1="57.6" x2="397.8" y2="57.6" stroke="#000000"/>
<line x1="322.6" y1="116.9" x2="397.8" y2="116.9" stroke="#00ff00"/>
<line x1="322.6" y1="176.2" x2="397.8" y2="176.2" stroke="#ff0000"/>
<line x1="322.6" y1="235.6" x2="397.8" y2="235.6" stroke="#0000ff"/>
</g>
<g font-family="'Liberation Serif', serif" font-size="33.4" fill="#000" style="font-kerning:none">
<text transform="translate(407.0,69.0) scale(1,1.055)">Al<tspan dy="13.93">2</tspan><tspan dy="-13.93">O</tspan><tspan dy="13.93">3</tspan></text>
<text transform="translate(407.0,128.4) scale(1,1.055)">(9%)Zr/Al<tspan dy="13.93">2</tspan><tspan dy="-13.93">O</tspan><tspan dy="13.93">3</tspan></text>
<text transform="translate(407.0,187.9) scale(1,1.055)">(16%)Zr/Al<tspan dy="13.93">2</tspan><tspan dy="-13.93">O</tspan><tspan dy="13.93">3</tspan></text>
<text transform="translate(407.0,247.4) scale(1,1.055)">(35%)Zr/Al<tspan dy="13.93">2</tspan><tspan dy="-13.93">O</tspan><tspan dy="13.93">3</tspan></text>
</g>
<text transform="translate(377,864.6) scale(1,1.055)" font-family="'Liberation Serif', serif" font-size="42.4" fill="#000" style="font-kerning:none">Wavenumber (cm<tspan font-size="24.4" dy="-20.95" dx="0.6">−</tspan><tspan font-size="24.4" dy="-2.46" dx="0.6">1</tspan><tspan dy="23.41" dx="0.6">)</tspan></text>
<text transform="translate(40.8,591.8) rotate(-90) scale(1,0.955)" font-family="'Liberation Serif', serif" font-size="45.4" fill="#000" style="font-kerning:none">Transmittance (a.u.)</text>
</g>
</svg>
</body></html>
